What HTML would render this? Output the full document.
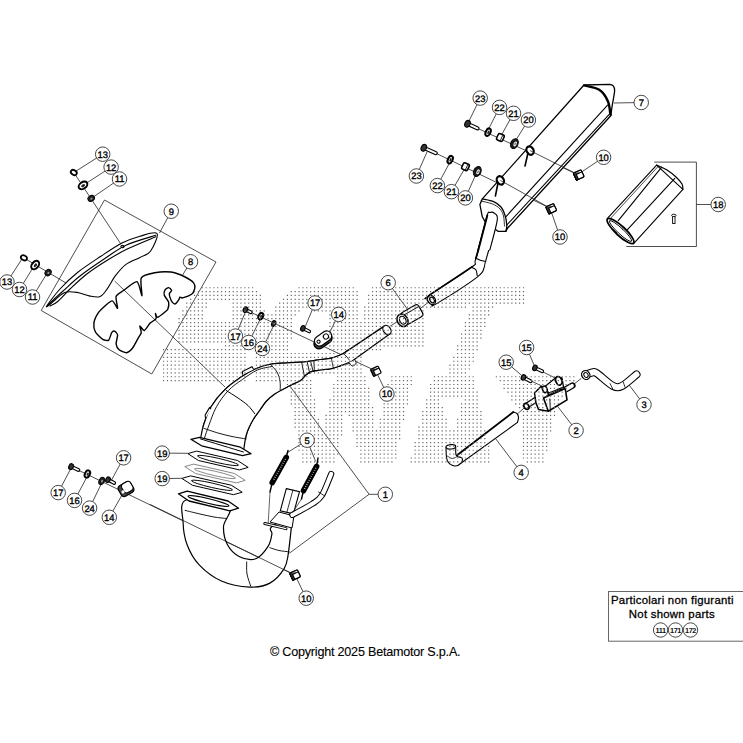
<!DOCTYPE html>
<html><head><meta charset="utf-8"><style>
html,body{margin:0;padding:0;background:#fff;width:743px;height:743px;overflow:hidden}
svg{display:block;font-family:"Liberation Sans",sans-serif}
.c{fill:#fff;stroke:#333;stroke-width:0.9}
.n{font-size:9.4px;text-anchor:middle;fill:#000;stroke:#000;stroke-width:0.35;text-rendering:geometricPrecision}
.s{font-size:7.4px;font-weight:bold;text-anchor:middle;fill:#111;letter-spacing:-0.4px}
.l{stroke:#222;stroke-width:0.8;fill:none}
.o{stroke:#000;stroke-width:1.1;fill:#fff;stroke-linejoin:round;stroke-linecap:round}
.on{stroke:#000;stroke-width:1.1;fill:none;stroke-linejoin:round;stroke-linecap:round}
.k{fill:#111;stroke:#000;stroke-width:0.8}
</style></head><body>
<svg width="743" height="743" viewBox="0 0 743 743">
<path d="M104.5,200.0 L216.0,262.0 L151.8,374.0 L41.2,310.5Z" class="l" />
<line x1="73.8" y1="172.5" x2="122.5" y2="246.5" class="l" />
<line x1="24" y1="258" x2="71" y2="286" class="l" />
<line x1="114.6" y1="281" x2="225" y2="387" class="l" />
<path d="M46.5,306.5 C47.3,304.7 54.8,294.7 60.0,289.0 C65.2,283.3 70.8,277.9 77.5,272.5 C84.2,267.1 93.1,261.4 100.5,256.5 C107.9,251.6 115.4,246.4 122.0,243.0 C128.6,239.6 134.2,237.8 140.0,236.2 C145.8,234.6 155.2,231.0 157.0,233.5 C158.8,236.0 153.3,247.2 150.5,251.2 C147.7,255.2 144.1,255.2 140.0,257.4 C135.9,259.6 130.1,261.3 126.0,264.4 C121.9,267.4 118.7,271.5 115.5,275.7 C112.3,279.9 109.3,286.2 106.7,289.7 C104.1,293.2 102.6,295.7 99.7,296.7 C96.8,297.7 93.0,296.6 89.2,295.9 C85.4,295.2 81.1,293.0 77.0,292.4 C72.9,291.8 68.4,291.1 64.7,292.4 C61.0,293.7 58.0,297.6 55.0,300.0 C52.0,302.4 45.7,308.3 46.5,306.5Z" class="o" />
<path d="M48.5,304.5 C50.8,302.3 57.2,296.2 62.5,291.5 C67.8,286.8 73.0,281.4 80.0,276.0 C87.0,270.6 96.8,263.9 104.5,258.8 C112.2,253.7 117.5,249.1 126.0,245.2 C134.5,241.3 150.8,237.0 155.7,235.3" class="on" />
<path d="M50.0,306.0 C51.3,305.2 54.4,304.3 57.7,301.5 C61.0,298.7 65.0,293.7 70.0,289.0 C75.0,284.3 81.1,278.4 87.5,273.5 C93.9,268.6 101.8,263.6 108.5,259.5 C115.2,255.4 119.8,252.6 127.7,248.8 C135.6,245.0 151.0,238.8 155.7,236.8" class="on" />
<ellipse cx="122.5" cy="246.5" rx="1.6" ry="1.2" class="on"/>
<path d="M141.3,277.9 C142.8,275.2 151.1,273.5 154.6,272.8 C158.1,272.1 167.4,271.6 170.9,272.0 C174.4,272.4 181.5,275.2 184.2,276.5 C186.9,277.8 192.6,281.6 193.8,283.1 C195.0,284.6 194.9,287.7 194.6,289.0 C194.3,290.3 193.0,293.2 191.6,294.2 C190.2,295.2 184.1,297.5 182.7,297.9 C181.3,298.2 180.2,297.0 179.8,297.2 C179.4,297.4 179.5,298.6 179.0,299.4 C178.5,300.2 176.1,303.5 175.3,303.9 C174.5,304.2 173.0,303.1 172.4,302.4 C171.8,301.7 170.5,298.9 170.2,297.9 C169.8,296.9 169.2,294.4 169.4,293.5 C169.6,292.6 171.7,291.2 171.6,290.5 C171.5,289.8 169.5,287.7 168.7,287.6 C167.9,287.5 165.5,288.9 165.0,289.8 C164.5,290.7 164.0,294.0 164.2,295.0 C164.4,296.0 166.0,297.8 166.5,298.7 C167.0,299.6 168.5,301.2 168.7,302.4 C168.9,303.6 168.3,307.9 167.9,309.0 C167.5,310.1 166.2,311.0 165.0,312.0 C163.8,313.0 158.7,317.0 157.6,317.2 C156.5,317.4 155.6,313.3 155.4,313.5 C155.2,313.7 156.7,317.6 156.1,318.7 C155.5,319.8 151.6,321.7 150.2,323.1 C148.8,324.5 145.5,330.2 144.3,330.5 C143.1,330.8 140.2,325.7 139.8,326.0 C139.5,326.3 141.5,331.3 141.3,332.7 C141.1,334.1 139.3,336.1 138.3,337.9 C137.3,339.7 133.8,346.6 132.4,348.3 C131.0,350.0 128.1,352.5 126.5,352.7 C124.9,352.9 120.3,350.7 119.1,349.7 C117.9,348.7 116.3,345.5 116.1,343.8 C115.9,342.1 117.8,336.5 117.6,335.0 C117.4,333.5 115.3,331.5 114.6,331.2 C113.9,330.9 112.4,331.7 111.7,332.7 C111.0,333.7 109.7,339.3 108.7,340.1 C107.7,340.9 104.4,340.3 102.8,339.4 C101.2,338.5 96.4,333.9 95.4,332.0 C94.4,330.1 93.6,325.4 93.9,323.1 C94.2,320.8 97.0,314.8 98.4,312.7 C99.8,310.6 104.2,306.7 105.8,305.3 C107.4,303.9 111.0,300.5 112.4,300.9 C113.8,301.2 117.2,308.8 117.6,308.3 C118.0,307.8 115.4,298.6 116.1,296.5 C116.8,294.4 121.1,292.2 123.5,290.5 C125.9,288.8 134.7,281.0 136.9,281.6 C139.1,282.2 141.5,296.1 142.0,295.7 C142.5,295.3 139.8,280.6 141.3,277.9Z" class="on" style="stroke-width:1.4"/>
<line x1="102.7" y1="154.2" x2="73.8" y2="172.5" class="l" />
<line x1="111.1" y1="167.1" x2="83" y2="185.4" class="l" />
<line x1="119.5" y1="179" x2="91.2" y2="198.4" class="l" />
<line x1="7" y1="282" x2="23.25" y2="257" class="l" />
<line x1="19.5" y1="289.5" x2="35" y2="264.5" class="l" />
<line x1="32.5" y1="297" x2="47.5" y2="272.5" class="l" />
<line x1="171.25" y1="211.25" x2="159.5" y2="233" class="l" />
<line x1="190.5" y1="261.75" x2="182.7" y2="275" class="l" />
<line x1="315.1" y1="303" x2="305.5" y2="326" class="l" />
<line x1="338.7" y1="314.4" x2="329.1" y2="333.6" class="l" />
<line x1="235.4" y1="336.1" x2="245.4" y2="312" class="l" />
<line x1="248.7" y1="342.5" x2="260.8" y2="318" class="l" />
<line x1="262.4" y1="348.5" x2="273.7" y2="325.5" class="l" />
<line x1="388.2" y1="282.7" x2="408" y2="310" class="l" />
<line x1="386.9" y1="394" x2="375.9" y2="371.2" class="l" />
<line x1="526.6" y1="347.5" x2="534.9" y2="367" class="l" />
<line x1="506.2" y1="362.2" x2="523.5" y2="377" class="l" />
<line x1="576.1" y1="430.4" x2="557.6" y2="406.4" class="l" />
<line x1="644" y1="404.6" x2="629.4" y2="385.4" class="l" />
<line x1="521.2" y1="472.4" x2="495.7" y2="438.8" class="l" />
<line x1="369.1" y1="494.3" x2="289.5" y2="385.5" class="l" />
<line x1="369.1" y1="494.3" x2="289.4" y2="553.2" class="l" />
<line x1="385.3" y1="494.3" x2="369.1" y2="494.3" class="l" />
<line x1="307.1" y1="440.2" x2="286.3" y2="453.3" class="l" />
<line x1="307.1" y1="440.2" x2="315.6" y2="461.4" class="l" />
<line x1="162.2" y1="453.1" x2="187.7" y2="453.3" class="l" />
<line x1="162.2" y1="478.6" x2="181.7" y2="478.3" class="l" />
<line x1="123.6" y1="457.8" x2="111" y2="481" class="l" />
<line x1="58.2" y1="492.6" x2="71.1" y2="468" class="l" />
<line x1="74.5" y1="500.4" x2="87.4" y2="476" class="l" />
<line x1="89.6" y1="508.1" x2="101.7" y2="483" class="l" />
<line x1="109.3" y1="517.3" x2="122" y2="495" class="l" />
<line x1="306.2" y1="598.2" x2="296" y2="577" class="l" />
<line x1="480.2" y1="98.1" x2="469" y2="121" class="l" />
<line x1="499.5" y1="107.4" x2="488.1" y2="130" class="l" />
<line x1="513.5" y1="113.3" x2="501.5" y2="135" class="l" />
<line x1="528.4" y1="120" x2="516" y2="140" class="l" />
<line x1="416.4" y1="176" x2="427" y2="152" class="l" />
<line x1="437.4" y1="185.6" x2="450" y2="162" class="l" />
<line x1="451.4" y1="191.7" x2="465" y2="168" class="l" />
<line x1="465.4" y1="197.9" x2="476" y2="174" class="l" />
<line x1="641.25" y1="102.5" x2="614" y2="103" class="l" />
<line x1="603.6" y1="157.3" x2="580" y2="173" class="l" />
<line x1="560" y1="237" x2="551" y2="211" class="l" />
<line x1="245" y1="309.5" x2="376" y2="371" class="l" />
<line x1="71" y1="466.6" x2="295" y2="575" class="l" />
<line x1="467.1" y1="123.5" x2="578.75" y2="175" class="l" />
<line x1="426.9" y1="148.9" x2="551.25" y2="208.75" class="l" />
<line x1="420.7" y1="306" x2="390" y2="326.3" class="l" />
<line x1="400" y1="324" x2="428.6" y2="302.1" class="l" />
<line x1="518.1" y1="413.3" x2="534" y2="399.5" class="l" />
<line x1="572.5" y1="385.4" x2="581.2" y2="378.4" class="l" />
<line x1="534.9" y1="367.9" x2="557.6" y2="379.2" class="l" />
<line x1="523.5" y1="377.5" x2="546.2" y2="388" class="l" />
<path d="M654.2,162.1 L696.4,162.1 L696.4,246.5 L626.3,246.5" class="l" />
<line x1="696.4" y1="204.5" x2="711" y2="204.5" class="l" />
<ellipse cx="73.8" cy="172.5" rx="3.2" ry="2.3" transform="rotate(30 73.8 172.5)" fill="#fff" stroke="#000" stroke-width="1.8"/>
<ellipse cx="83" cy="185.4" rx="3.2" ry="4.8" transform="rotate(55 83 185.4)" fill="#fff" stroke="#000" stroke-width="2.0"/>
<ellipse cx="83.3" cy="185.4" rx="1.2800000000000002" ry="2.16" transform="rotate(55 83 185.4)" fill="#222" stroke="none"/>
<ellipse cx="91.2" cy="198.4" rx="2.8" ry="3.4" transform="rotate(55 91.2 198.4)" fill="#222" stroke="#000" stroke-width="1"/>
<ellipse cx="91.60000000000001" cy="198.4" rx="0.9799999999999999" ry="1.19" transform="rotate(55 91.2 198.4)" fill="#999" stroke="none"/>
<ellipse cx="23.9" cy="257.8" rx="3.2" ry="2.3" transform="rotate(30 23.9 257.8)" fill="#fff" stroke="#000" stroke-width="1.8"/>
<ellipse cx="35.2" cy="265.1" rx="3.2" ry="4.8" transform="rotate(40 35.2 265.1)" fill="#fff" stroke="#000" stroke-width="2.0"/>
<ellipse cx="35.5" cy="265.1" rx="1.2800000000000002" ry="2.16" transform="rotate(40 35.2 265.1)" fill="#222" stroke="none"/>
<ellipse cx="48.1" cy="272.6" rx="2.8" ry="3.4" transform="rotate(40 48.1 272.6)" fill="#222" stroke="#000" stroke-width="1"/>
<ellipse cx="48.5" cy="272.6" rx="0.9799999999999999" ry="1.19" transform="rotate(40 48.1 272.6)" fill="#999" stroke="none"/>
<line x1="245.4" y1="309.7" x2="250.8" y2="312.2" stroke="#000" stroke-width="3.8" stroke-linecap="round"/>
<line x1="246.8" y1="310.3" x2="250.8" y2="312.2" stroke="#fff" stroke-width="1.5999999999999996" stroke-linecap="round"/>
<ellipse cx="245.4" cy="309.7" rx="2.16" ry="2.88" transform="rotate(25 245.4 309.7)" fill="#333" stroke="#000" stroke-width="1.1"/>
<ellipse cx="260.8" cy="316.2" rx="2.2" ry="3.4" transform="rotate(25 260.8 316.2)" fill="#fff" stroke="#000" stroke-width="2.0"/>
<ellipse cx="261.1" cy="316.2" rx="0.8800000000000001" ry="1.53" transform="rotate(25 260.8 316.2)" fill="#222" stroke="none"/>
<ellipse cx="273.7" cy="323.5" rx="2.0" ry="3.0" transform="rotate(25 273.7 323.5)" fill="#222" stroke="#000" stroke-width="1"/>
<ellipse cx="274.09999999999997" cy="323.5" rx="0.7" ry="1.0499999999999998" transform="rotate(25 273.7 323.5)" fill="#999" stroke="none"/>
<line x1="302.9" y1="328.4" x2="309.2" y2="331.4" stroke="#000" stroke-width="3.8" stroke-linecap="round"/>
<line x1="304.3" y1="329.0" x2="309.2" y2="331.4" stroke="#fff" stroke-width="1.5999999999999996" stroke-linecap="round"/>
<ellipse cx="302.9" cy="328.4" rx="2.16" ry="2.88" transform="rotate(25 302.9 328.4)" fill="#333" stroke="#000" stroke-width="1.1"/>
<line x1="71.1" y1="466.6" x2="78.4" y2="470.0" stroke="#000" stroke-width="3.8" stroke-linecap="round"/>
<line x1="72.5" y1="467.2" x2="78.4" y2="470.0" stroke="#fff" stroke-width="1.5999999999999996" stroke-linecap="round"/>
<ellipse cx="71.1" cy="466.6" rx="2.25" ry="3.0" transform="rotate(25 71.1 466.6)" fill="#333" stroke="#000" stroke-width="1.1"/>
<ellipse cx="87.4" cy="474" rx="2.4" ry="3.8" transform="rotate(25 87.4 474)" fill="#fff" stroke="#000" stroke-width="2.0"/>
<ellipse cx="87.7" cy="474" rx="0.96" ry="1.71" transform="rotate(25 87.4 474)" fill="#222" stroke="none"/>
<ellipse cx="101.7" cy="481" rx="2.6" ry="3.8" transform="rotate(25 101.7 481)" fill="#222" stroke="#000" stroke-width="1"/>
<ellipse cx="102.10000000000001" cy="481" rx="0.9099999999999999" ry="1.3299999999999998" transform="rotate(25 101.7 481)" fill="#999" stroke="none"/>
<line x1="108" y1="479.7" x2="114.2" y2="483.0" stroke="#000" stroke-width="3.8" stroke-linecap="round"/>
<line x1="109.3" y1="480.4" x2="114.2" y2="483.0" stroke="#fff" stroke-width="1.5999999999999996" stroke-linecap="round"/>
<ellipse cx="108" cy="479.7" rx="2.16" ry="2.88" transform="rotate(28 108 479.7)" fill="#333" stroke="#000" stroke-width="1.1"/>
<line x1="534.9" y1="367.9" x2="542.2" y2="371.3" stroke="#000" stroke-width="3.8" stroke-linecap="round"/>
<line x1="536.3" y1="368.5" x2="542.2" y2="371.3" stroke="#fff" stroke-width="1.5999999999999996" stroke-linecap="round"/>
<ellipse cx="534.9" cy="367.9" rx="2.16" ry="2.88" transform="rotate(25 534.9 367.9)" fill="#333" stroke="#000" stroke-width="1.1"/>
<line x1="523.5" y1="377.5" x2="530.6" y2="381.3" stroke="#000" stroke-width="3.8" stroke-linecap="round"/>
<line x1="524.8" y1="378.2" x2="530.6" y2="381.3" stroke="#fff" stroke-width="1.5999999999999996" stroke-linecap="round"/>
<ellipse cx="523.5" cy="377.5" rx="2.16" ry="2.88" transform="rotate(28 523.5 377.5)" fill="#333" stroke="#000" stroke-width="1.1"/>
<line x1="467.5" y1="123.8" x2="477.5" y2="128.3" stroke="#000" stroke-width="4.2" stroke-linecap="round"/>
<line x1="468.9" y1="124.4" x2="477.5" y2="128.3" stroke="#fff" stroke-width="2.0" stroke-linecap="round"/>
<ellipse cx="467.5" cy="123.8" rx="2.61" ry="3.48" transform="rotate(24 467.5 123.8)" fill="#333" stroke="#000" stroke-width="1.1"/>
<ellipse cx="488.1" cy="132.2" rx="2.3" ry="4.0" transform="rotate(25 488.1 132.2)" fill="#fff" stroke="#000" stroke-width="2.0"/>
<ellipse cx="488.40000000000003" cy="132.2" rx="0.9199999999999999" ry="1.8" transform="rotate(25 488.1 132.2)" fill="#222" stroke="none"/>
<g transform="translate(500.4 137.5) rotate(25)"><rect x="-3.2" y="-3.4" width="6.4" height="6.8" rx="1.6" fill="#fff" stroke="#000" stroke-width="1.6"/><line x1="1.2" y1="-3" x2="1.2" y2="3" stroke="#000" stroke-width="0.8"/></g>
<g transform="translate(514.4 143.6) rotate(25)"><ellipse cx="0" cy="0" rx="3.6" ry="5.2" fill="#1a1a1a" stroke="#000" stroke-width="1"/><ellipse cx="0.8" cy="0" rx="1.5" ry="2.6" fill="#fff" stroke="none"/><ellipse cx="0.8" cy="0" rx="0.7" ry="1.4" fill="#666" stroke="none"/></g>
<line x1="423.8" y1="147.8" x2="435.7" y2="153.1" stroke="#000" stroke-width="4.2" stroke-linecap="round"/>
<line x1="425.2" y1="148.4" x2="435.7" y2="153.1" stroke="#fff" stroke-width="2.0" stroke-linecap="round"/>
<ellipse cx="423.8" cy="147.8" rx="2.61" ry="3.48" transform="rotate(24 423.8 147.8)" fill="#333" stroke="#000" stroke-width="1.1"/>
<ellipse cx="450.2" cy="159.7" rx="2.3" ry="4.0" transform="rotate(25 450.2 159.7)" fill="#fff" stroke="#000" stroke-width="2.0"/>
<ellipse cx="450.5" cy="159.7" rx="0.9199999999999999" ry="1.8" transform="rotate(25 450.2 159.7)" fill="#222" stroke="none"/>
<g transform="translate(465.5 166.7) rotate(25)"><rect x="-3.2" y="-3.4" width="6.4" height="6.8" rx="1.6" fill="#fff" stroke="#000" stroke-width="1.6"/><line x1="1.2" y1="-3" x2="1.2" y2="3" stroke="#000" stroke-width="0.8"/></g>
<g transform="translate(477.3 171.5) rotate(25)"><ellipse cx="0" cy="0" rx="3.6" ry="5.2" fill="#1a1a1a" stroke="#000" stroke-width="1"/><ellipse cx="0.8" cy="0" rx="1.5" ry="2.6" fill="#fff" stroke="none"/><ellipse cx="0.8" cy="0" rx="0.7" ry="1.4" fill="#666" stroke="none"/></g>
<g transform="translate(578.75 175) rotate(-25)"><rect x="-4.2" y="-3.8" width="8.4" height="7.6" rx="1" fill="#fff" stroke="#000" stroke-width="1.2"/><path d="M-4.2,-3.8 L-4.2,3.8 L-2,3.8 L-2,-1.5 L4.2,-1.5" fill="#333" stroke="#000" stroke-width="1"/></g>
<g transform="translate(551.25 208.75) rotate(-25)"><rect x="-4.2" y="-3.8" width="8.4" height="7.6" rx="1" fill="#fff" stroke="#000" stroke-width="1.2"/><path d="M-4.2,-3.8 L-4.2,3.8 L-2,3.8 L-2,-1.5 L4.2,-1.5" fill="#333" stroke="#000" stroke-width="1"/></g>
<g transform="translate(375.9 371.2) rotate(-25)"><rect x="-4.2" y="-3.8" width="8.4" height="7.6" rx="1" fill="#fff" stroke="#000" stroke-width="1.2"/><path d="M-4.2,-3.8 L-4.2,3.8 L-2,3.8 L-2,-1.5 L4.2,-1.5" fill="#333" stroke="#000" stroke-width="1"/></g>
<g transform="translate(295.1 575) rotate(-25)"><rect x="-4.2" y="-3.8" width="8.4" height="7.6" rx="1" fill="#fff" stroke="#000" stroke-width="1.2"/><path d="M-4.2,-3.8 L-4.2,3.8 L-2,3.8 L-2,-1.5 L4.2,-1.5" fill="#333" stroke="#000" stroke-width="1"/></g>
<g transform="translate(323 341) rotate(-35)"><rect x="-10" y="-5" width="20" height="10" rx="5" fill="#3a3a3a" stroke="#000" stroke-width="1.3"/><rect x="-8" y="-7" width="19" height="10" rx="5" fill="#fff" stroke="#000" stroke-width="1.2"/><circle cx="-4" cy="-2" r="1.6" fill="#fff" stroke="#000" stroke-width="1"/><circle cx="5" cy="-2" r="2.6" fill="#fff" stroke="#000" stroke-width="1.1"/></g>
<g transform="translate(126 489) rotate(-30)"><rect x="-7" y="-6" width="14" height="12" rx="3" fill="#444" stroke="#000" stroke-width="1.2"/><rect x="-3" y="-6" width="10" height="10" rx="3" fill="#fff" stroke="#000" stroke-width="1"/><circle cx="-4" cy="1" r="1.6" fill="#fff"/></g>
<path d="M488.5,214.2 C486.4,221.6 478.6,249.9 475.8,258.7 C473.0,267.5 479.3,261.1 471.5,267.2 C463.7,273.3 436.6,290.1 429.1,295.4 C421.6,300.7 426.0,297.6 426.5,299.0 C427.0,300.4 430.4,303.2 432.0,304.0 C433.6,304.8 428.7,308.4 436.2,303.9 C443.7,299.4 469.2,283.2 477.2,277.1 C485.2,271.0 482.8,269.9 484.2,267.2 C485.6,264.5 483.4,268.8 485.7,260.8 C487.9,252.8 495.7,226.1 497.7,219.1" class="o" />
<path d="M488.5,214.2 L475.8,258.7" class="on" style="stroke-width:1.8"/>
<path d="M477.2,258.7 C477.8,259.0 479.6,260.0 481.0,260.5 C482.4,261.0 484.9,261.3 485.7,261.5" class="on" />
<path d="M471.5,267.2 C472.2,267.7 475.1,268.6 476.0,270.0 C476.9,271.4 477.0,274.8 477.2,275.7" class="on" />
<path d="M471.5,267.2 L429.1,295.4" class="on" style="stroke-width:1.6"/>
<ellipse cx="431.5" cy="300" rx="3.6" ry="4.8" transform="rotate(-35 431.5 300)" class="o" style="stroke-width:1.4"/>
<ellipse cx="432" cy="300" rx="2.0" ry="3.0" transform="rotate(-35 432 300)" class="on" />
<path d="M584,85 L482.3,198.9 L479.9,204.5 L482.3,216.8 L485,221.5 L498.3,231.4 L505.8,231.4 L507.7,228 L611,115.5 C611.5,106 614,98 614.6,91 C614.8,87 613,84.4 609.5,84.4 Z" fill="#fff" stroke="#000" stroke-width="1.3" stroke-linejoin="round"/>
<path d="M505.8,216.8 L607.6,105.2" class="on" />
<path d="M506.8,225.0 L609.0,114.6" class="on" />
<path d="M584.0,85.4 C586.6,86.2 595.6,87.3 599.6,90.0 C603.6,92.7 606.2,97.3 608.0,101.4 C609.8,105.5 610.0,112.4 610.4,114.6" class="on" style="stroke-width:2.4"/>
<path d="M482.3,198.9 C484.2,199.4 490.5,200.3 493.6,201.7 C496.7,203.0 499.1,204.8 501.0,207.0 C502.9,209.2 503.9,211.9 504.9,214.9 C505.9,217.9 506.6,222.4 506.8,225.2 C507.0,227.9 506.0,230.4 505.8,231.4" class="on" style="stroke-width:1.3"/>
<path d="M481.0,201.0 C482.9,201.5 489.4,202.7 492.6,204.0 C495.8,205.3 498.2,207.0 500.0,209.0 C501.8,211.0 502.8,213.2 503.5,216.0 C504.2,218.8 504.3,224.3 504.5,226.0" class="on" style="stroke-width:0.8"/>
<path d="M478.3,250.0 C479.8,244.3 485.1,222.1 487.0,215.8 C488.9,209.6 488.8,213.0 490.0,212.5 C491.2,212.0 492.8,211.8 494.0,213.0 C495.2,214.2 498.0,213.4 497.3,219.6 C496.6,225.8 491.1,244.9 489.8,250.0" class="o" style="stroke-width:1.1"/>
<path d="M487.3,215.5 L478.3,250.0" class="on" style="stroke-width:1.9"/>
<ellipse cx="530.1" cy="150.6" rx="3.4" ry="4.4" transform="rotate(-30 530.1 150.6)" class="o" style="stroke-width:2.2"/>
<path d="M528.0,153.0 L525.0,166.0" class="on" style="stroke-width:1.6"/>
<ellipse cx="500.4" cy="180.4" rx="3.4" ry="4.4" transform="rotate(-30 500.4 180.4)" class="o" style="stroke-width:2.2"/>
<path d="M498.0,183.0 L495.4,196.0" class="on" style="stroke-width:1.6"/>
<path d="M656.6,165.1 L607.2,218.6 L633.4,243.9 L682.9,189.4Z" class="o" />
<path d="M656.6,165.1 C658.3,165.9 663.8,168.0 667.0,170.0 C670.2,172.0 673.5,174.7 676.0,177.0 C678.5,179.3 680.9,181.9 682.0,184.0 C683.1,186.1 682.8,188.5 682.9,189.4" class="on" style="stroke-width:1.2"/>
<path d="M661.7,167.2 L618.3,220.7" class="on" />
<path d="M674.8,178.3 L626.3,230.8" class="on" />
<path d="M658.5,166.0 L609.5,219.5" class="on" style="stroke-width:0.7"/>
<ellipse cx="620.5" cy="231" rx="4.8" ry="17.8" transform="rotate(-47 620.5 231)" class="o" style="stroke-width:1.8"/>
<ellipse cx="620.5" cy="231" rx="2.8" ry="15" transform="rotate(-47 620.5 231)" class="on" style="stroke-width:0.9"/>
<line x1="613" y1="229" x2="617" y2="233" class="on" style="stroke-width:0.8"/>
<g transform="translate(673.8 219) rotate(0)"><rect x="-1.2" y="-3" width="2.4" height="7.5" fill="#fff" stroke="#000" stroke-width="0.9"/><ellipse cx="0" cy="-3.6" rx="2.2" ry="1.2" fill="#fff" stroke="#000" stroke-width="0.9"/></g>
<g transform="translate(412 314.5) rotate(-30)"><rect x="-10" y="-6.6" width="20" height="13.2" rx="3" fill="#fff" stroke="#000" stroke-width="1.2"/><line x1="-9" y1="-3.5" x2="9" y2="-3.5" stroke="#000" stroke-width="0.9"/></g>
<ellipse cx="402.5" cy="320.3" rx="5.2" ry="6.6" transform="rotate(-30 402.5 320.3)" class="o" style="stroke-width:1.5"/>
<ellipse cx="402.8" cy="320.2" rx="3.0" ry="4.2" transform="rotate(-30 402.8 320.2)" class="on" style="stroke-width:1.2"/>
<line x1="530.1" y1="150.6" x2="578.75" y2="175" class="l" />
<line x1="500.4" y1="180.4" x2="551.25" y2="208.75" class="l" />
<g transform="translate(578.75 175) rotate(-25)"><rect x="-4.2" y="-3.8" width="8.4" height="7.6" rx="1" fill="#fff" stroke="#000" stroke-width="1.2"/><path d="M-4.2,-3.8 L-4.2,3.8 L-2,3.8 L-2,-1.5 L4.2,-1.5" fill="#333" stroke="#000" stroke-width="1"/></g>
<g transform="translate(551.25 208.75) rotate(-25)"><rect x="-4.2" y="-3.8" width="8.4" height="7.6" rx="1" fill="#fff" stroke="#000" stroke-width="1.2"/><path d="M-4.2,-3.8 L-4.2,3.8 L-2,3.8 L-2,-1.5 L4.2,-1.5" fill="#333" stroke="#000" stroke-width="1"/></g>
<path d="M200.5,438.9 C201.0,436.6 201.8,430.4 203.6,425.0 C205.4,419.6 207.5,412.6 211.1,406.7 C214.7,400.8 220.2,394.2 225.1,389.4 C229.9,384.5 235.2,381.0 240.2,377.6 C245.2,374.2 250.5,371.2 255.3,369.0 C260.1,366.8 263.7,365.5 269.0,364.5 C274.3,363.5 281.7,363.3 286.9,362.9 C292.1,362.5 297.0,362.4 300.4,362.2 C303.8,362.0 303.7,361.9 307.1,361.5 C310.5,361.1 316.6,360.1 320.6,359.5 C324.6,358.9 327.5,359.2 331.3,358.2 C335.1,357.2 340.3,354.9 343.4,353.5 C346.5,352.1 348.6,348.2 350.0,349.5 C351.4,350.8 353.0,358.8 351.5,361.5 C350.0,364.2 343.9,364.5 340.8,365.6 C337.7,366.7 336.5,367.5 332.7,368.3 C328.9,369.1 321.5,369.8 317.9,370.3 C314.3,370.9 313.1,370.8 311.1,371.6 C309.1,372.4 307.6,373.5 305.8,375.0 C304.0,376.5 303.1,378.6 300.4,380.4 C297.7,382.2 293.8,383.6 289.6,385.8 C285.4,388.0 278.9,391.2 275.0,393.8 C271.1,396.4 268.6,398.7 266.0,401.5 C263.4,404.3 261.7,407.6 259.6,410.5 C257.5,413.4 255.2,416.3 253.5,419.0 C251.8,421.7 250.8,423.7 249.5,426.5 C248.2,429.3 247.0,431.8 246.0,436.0 C245.0,440.2 243.8,449.3 243.4,452.0" class="o" style="stroke-width:1.2"/>
<path d="M243.4,452.0 L200.5,438.9" class="x" stroke="none" fill="none"/>
<path d="M200.5,438.9 C193.9,434.4 201.8,430.4 203.6,425.0 C205.4,419.6 207.5,412.6 211.1,406.7 C214.7,400.8 220.2,394.2 225.1,389.4 C229.9,384.5 235.2,381.0 240.2,377.6 C245.2,374.2 250.5,371.2 255.3,369.0 C260.1,366.8 263.7,365.5 269.0,364.5 C274.3,363.5 281.7,363.3 286.9,362.9 C292.1,362.5 297.0,362.4 300.4,362.2 C303.8,362.0 303.7,361.9 307.1,361.5 C310.5,361.1 316.6,360.1 320.6,359.5 C324.6,358.9 327.5,359.2 331.3,358.2 C335.1,357.2 340.3,354.9 343.4,353.5 C346.5,352.1 343.1,353.9 350.0,349.5 C356.9,345.1 378.2,329.6 385.0,327.0 C391.8,324.4 396.1,328.2 390.5,334.0 C384.9,339.8 359.8,356.2 351.5,361.5 C343.2,366.8 343.9,364.5 340.8,365.6 C337.7,366.7 336.5,367.5 332.7,368.3 C328.9,369.1 321.5,369.8 317.9,370.3 C314.3,370.9 313.1,370.8 311.1,371.6 C309.1,372.4 307.6,373.5 305.8,375.0 C304.0,376.5 303.1,378.6 300.4,380.4 C297.7,382.2 293.8,383.6 289.6,385.8 C285.4,388.0 278.9,391.2 275.0,393.8 C271.1,396.4 268.6,398.7 266.0,401.5 C263.4,404.3 261.7,407.6 259.6,410.5 C257.5,413.4 255.2,416.3 253.5,419.0 C251.8,421.7 250.8,423.7 249.5,426.5 C248.2,429.3 247.0,431.8 246.0,436.0 C245.0,440.2 251.0,451.5 243.4,452.0 C235.8,452.5 207.1,443.4 200.5,438.9Z" class="x" fill="#fff" stroke="none"/>
<path d="M200.5,438.9 C201.0,436.6 201.8,430.4 203.6,425.0 C205.4,419.6 207.5,412.6 211.1,406.7 C214.7,400.8 220.2,394.2 225.1,389.4 C229.9,384.5 235.2,381.0 240.2,377.6 C245.2,374.2 250.5,371.2 255.3,369.0 C260.1,366.8 263.7,365.5 269.0,364.5 C274.3,363.5 281.7,363.3 286.9,362.9 C292.1,362.5 297.0,362.4 300.4,362.2 C303.8,362.0 303.7,361.9 307.1,361.5 C310.5,361.1 316.6,360.1 320.6,359.5 C324.6,358.9 327.5,359.2 331.3,358.2 C335.1,357.2 340.3,354.9 343.4,353.5 C346.5,352.1 348.9,350.2 350.0,349.5" class="on" style="stroke-width:1.2"/>
<path d="M351.5,361.5 C349.7,362.2 343.9,364.5 340.8,365.6 C337.7,366.7 336.5,367.5 332.7,368.3 C328.9,369.1 321.5,369.8 317.9,370.3 C314.3,370.9 313.1,370.8 311.1,371.6 C309.1,372.4 307.6,373.5 305.8,375.0 C304.0,376.5 303.1,378.6 300.4,380.4 C297.7,382.2 293.8,383.6 289.6,385.8 C285.4,388.0 278.9,391.2 275.0,393.8 C271.1,396.4 268.6,398.7 266.0,401.5 C263.4,404.3 261.7,407.6 259.6,410.5 C257.5,413.4 255.2,416.3 253.5,419.0 C251.8,421.7 250.8,423.7 249.5,426.5 C248.2,429.3 247.0,431.8 246.0,436.0 C245.0,440.2 243.8,449.3 243.4,452.0" class="on" style="stroke-width:1.2"/>
<path d="M204.5,438.0 C205.2,435.8 207.0,430.2 209.0,425.0 C211.0,419.8 213.3,412.4 216.5,406.7 C219.7,400.9 224.1,395.0 228.4,390.5 C232.7,386.0 237.6,382.9 242.4,379.5 C247.2,376.1 252.5,372.2 257.4,370.0 C262.3,367.8 269.6,367.1 272.0,366.5" class="on" style="stroke-width:0.9"/>
<path d="M226.2,390.5 C228.2,391.8 234.4,395.5 238.0,398.0 C241.6,400.5 245.2,402.9 248.0,405.5 C250.8,408.1 253.6,412.3 254.7,413.7" class="on" style="stroke-width:1"/>
<path d="M270.8,364.9 C271.8,366.1 275.5,369.3 277.0,372.0 C278.5,374.7 279.5,378.0 280.0,381.0 C280.5,384.0 280.2,388.3 280.2,389.8" class="on" style="stroke-width:0.9"/>
<path d="M204.0,428.4 C206.3,429.2 213.3,431.6 218.0,433.0 C222.7,434.4 227.3,435.5 232.0,436.5 C236.7,437.5 243.7,438.5 246.0,438.9" class="on" style="stroke-width:0.9"/>
<line x1="301.7" y1="362.2" x2="304.4" y2="376.5" class="on" style="stroke-width:0.9"/>
<line x1="307.1" y1="361.6" x2="309.8" y2="373.6" class="on" style="stroke-width:0.9"/>
<line x1="310.5" y1="361" x2="313.2" y2="371.6" class="on" style="stroke-width:0.9"/>
<line x1="313.8" y1="360.6" x2="314.5" y2="371" class="on" style="stroke-width:0.9"/>
<line x1="331.3" y1="358.2" x2="333.4" y2="368.3" class="on" style="stroke-width:0.8"/>
<path d="M343.4,353.5 L383.8,326.3 L390.4,333.6 L351.5,361.5 Z" fill="#fff" stroke="none"/>
<path d="M343.4,353.5 L383.8,326.3" class="on" style="stroke-width:1.5"/>
<path d="M351.5,361.5 L390.4,333.6" class="on" style="stroke-width:1.2"/>
<ellipse cx="387" cy="330" rx="3.6" ry="5.0" transform="rotate(-35 387 330)" class="o" style="stroke-width:1.2"/>
<path d="M343.4,353.5 C344.0,354.1 346.0,355.9 347.0,357.0 C348.0,358.1 349.1,359.7 349.5,360.2" class="on" style="stroke-width:0.8"/>
<path d="M349.0,362.5 C349.6,363.1 351.1,365.8 352.3,366.0 C353.5,366.2 355.6,364.5 356.0,363.5 C356.4,362.5 355.2,360.6 355.0,360.0" class="o" style="stroke-width:1"/>
<path d="M242.6,374.6 L242.4,371.5 L252,366.8 L253.7,369.5" fill="#fff" stroke="#000" stroke-width="1.1"/>
<path d="M205.5,418.5 L205.2,415 L209.5,407.7 L211,409" fill="#fff" stroke="#000" stroke-width="1.1"/>
<path d="M190.9,439.3 L199.5,437.4 L240.4,447.2 L251.1,453.7 L242.5,455.6 L201.6,445.8Z" fill="#fff" stroke="#000" stroke-width="1.3" stroke-linejoin="round"/>
<path d="M200.5,438.9 C207.7,441.1 236.2,449.8 243.4,452.0" class="on" style="stroke-width:1"/>
<path d="M187.8,453.6 L196.6,451.1 L237.5,460.5 L248.2,467.4 L239.4,469.9 L198.5,460.5Z" fill="#fff" stroke="#000" stroke-width="1.0" stroke-linejoin="round"/>
<ellipse cx="218" cy="460.5" rx="21" ry="2.2" transform="rotate(12.9 218 460.5)" fill="none" stroke="#000" stroke-width="0.9"/>
<path d="M184.8,466.6 L193.6,464.1 L234.5,473.5 L245.2,480.4 L236.4,482.9 L195.5,473.5Z" fill="#fff" stroke="#777" stroke-width="0.9" stroke-linejoin="round"/>
<ellipse cx="215" cy="473.5" rx="21" ry="2.2" transform="rotate(12.9 215 473.5)" fill="none" stroke="#777" stroke-width="0.81"/>
<path d="M181.8,478.4 L190.6,475.9 L231.5,485.3 L242.2,492.2 L233.4,494.7 L192.5,485.3Z" fill="#fff" stroke="#000" stroke-width="1.0" stroke-linejoin="round"/>
<ellipse cx="212" cy="485.3" rx="21" ry="2.2" transform="rotate(12.9 212 485.3)" fill="none" stroke="#000" stroke-width="0.9"/>
<path d="M186.1,500.0 C178.5,502.8 182.9,515.0 183.1,522.5 C183.3,530.0 184.4,537.6 187.1,544.7 C189.8,551.8 193.5,558.9 199.2,564.9 C204.9,570.9 213.0,577.3 221.4,581.0 C229.8,584.7 241.6,586.8 249.7,587.1 C257.8,587.5 264.2,586.1 269.9,583.1 C275.6,580.1 281.0,573.6 284.0,568.9 C287.0,564.2 286.8,562.9 288.1,554.8 C289.5,546.7 291.3,527.0 292.1,520.5 C292.9,514.0 296.4,514.9 293.0,516.0 C289.6,517.1 275.0,524.0 271.5,527.0 C268.0,530.0 272.5,530.7 271.9,534.0 C271.3,537.3 270.6,542.6 267.9,546.7 C265.2,550.8 260.5,557.1 255.8,558.8 C251.1,560.5 244.3,559.1 239.6,556.8 C234.9,554.4 230.2,549.8 227.5,544.7 C224.8,539.7 223.3,533.0 223.5,526.5 C223.7,520.0 234.7,510.4 228.5,506.0 C222.3,501.6 193.7,497.2 186.1,500.0Z" class="o" style="stroke-width:1.2"/>
<path d="M178.4,493.8 L187.2,491.2 L228.0,501.0 L238.6,508.2 L229.8,510.8 L189.0,501.0Z" fill="#fff" stroke="#000" stroke-width="1.3" stroke-linejoin="round"/>
<ellipse cx="208.5" cy="501" rx="21" ry="2.3" transform="rotate(13.5 208.5 501)" fill="none" stroke="#000" stroke-width="1.1700000000000002"/>
<path d="M185.1,510.4 C187.6,511.0 195.2,512.9 200.0,514.0 C204.8,515.1 209.6,516.2 214.0,517.0 C218.4,517.8 224.4,518.2 226.5,518.5" class="on" style="stroke-width:0.9"/>
<path d="M269.9,547.7 C271.4,548.2 275.8,549.8 279.0,550.5 C282.2,551.2 287.4,551.6 289.1,551.8" class="on" style="stroke-width:0.9"/>
<path d="M246.7,561.9 C246.8,563.9 246.3,570.0 247.0,574.0 C247.7,578.0 250.1,584.1 250.7,586.1" class="on" style="stroke-width:0.9"/>
<path d="M270,522 L279,512 L294,516 L292,528 Z" fill="#fff" stroke="#000" stroke-width="1"/>
<path d="M264.8,523.5 L286,528.6" stroke="#000" stroke-width="3" stroke-linecap="round"/><path d="M264.8,523.5 L286,528.6" stroke="#fff" stroke-width="1.2" stroke-linecap="round"/>
<path d="M286.3,488.6 L299.5,491.7 L293.4,513.9 L280.3,510.9 Z" fill="#fff" stroke="#000" stroke-width="1.1"/>
<line x1="292.9" y1="490.2" x2="286.8" y2="512.4" class="on" style="stroke-width:0.8"/>
<path d="M331.2,474.0 C329.6,477.6 324.9,490.7 321.7,495.7 C318.5,500.7 316.9,500.8 312.0,504.0 C307.1,507.2 295.7,513.1 292.4,514.9" class="on" style="stroke-width:6.2;stroke:#000"/>
<path d="M331.2,474.0 C329.6,477.6 324.9,490.7 321.7,495.7 C318.5,500.7 316.9,500.8 312.0,504.0 C307.1,507.2 295.7,513.1 292.4,514.9" class="on" style="stroke-width:4.2;stroke:#fff"/>
<line x1="318.5" y1="492" x2="324.8" y2="496" class="on" style="stroke-width:0.8"/>
<path d="M286.3,457.4 L272.2,482.6" stroke="#000" stroke-width="5.6" stroke-linecap="round"/>
<path d="M316.6,466.4 L303.5,490.7" stroke="#000" stroke-width="5.6" stroke-linecap="round"/>
<path d="M285.5,459 L273,481" stroke="#fff" stroke-width="1.6" stroke-dasharray="0.7 1.6" opacity="0.8"/>
<path d="M315.8,468 L304.3,489.2" stroke="#fff" stroke-width="1.6" stroke-dasharray="0.7 1.6" opacity="0.8"/>
<line x1="288" y1="450.5" x2="286.3" y2="457.4" class="on" style="stroke-width:1.4"/>
<line x1="272.2" y1="482.6" x2="270" y2="492" class="on" style="stroke-width:1.4"/>
<line x1="318" y1="458" x2="316.6" y2="466.4" class="on" style="stroke-width:1.4"/>
<line x1="303.5" y1="490.7" x2="301.5" y2="499" class="on" style="stroke-width:1.4"/>
<line x1="270" y1="492" x2="268.2" y2="523" class="l" style="stroke-width:0.7"/>
<line x1="301.5" y1="499" x2="292.4" y2="512.9" class="l" style="stroke-width:0.7"/>
<line x1="150" y1="504.4" x2="295" y2="575" class="l" />
<g transform="translate(295.1 575) rotate(-25)"><rect x="-4.2" y="-3.8" width="8.4" height="7.6" rx="1" fill="#fff" stroke="#000" stroke-width="1.2"/><path d="M-4.2,-3.8 L-4.2,3.8 L-2,3.8 L-2,-1.5 L4.2,-1.5" fill="#333" stroke="#000" stroke-width="1"/></g>
<path d="M513.3,412.1 L456.4,455.7 L461.2,463 L517.5,422.4 Z" fill="#fff" stroke="none"/>
<path d="M456.4,455.7 L513.3,412.1" class="on" style="stroke-width:1.9"/>
<path d="M461.2,463.0 L517.5,422.4" class="on" style="stroke-width:1.1"/>
<path d="M513.3,412.1 C513.9,412.3 516.1,412.6 517.0,413.5 C517.9,414.4 518.4,416.0 518.5,417.5 C518.6,419.0 517.7,421.6 517.5,422.4" class="on" style="stroke-width:1.1"/>
<path d="M446.0,447.2 C446.2,449.4 445.9,457.5 447.3,460.6 C448.7,463.7 452.2,465.6 454.5,466.0 C456.8,466.4 459.9,464.3 461.2,463.0 C462.4,461.7 462.8,459.2 462.0,458.0 C461.2,456.8 457.4,457.5 456.4,455.7 C455.3,453.9 455.8,448.6 455.7,447.2" class="o" style="stroke-width:1.1"/>
<ellipse cx="450.9" cy="446.8" rx="4.8" ry="2.2" transform="rotate(-5 450.9 446.8)" class="o" style="stroke-width:1.2"/>
<path d="M447.3,456.0 C448.1,456.4 450.5,458.3 452.0,458.5 C453.5,458.7 455.7,457.2 456.4,457.0" class="on" style="stroke-width:0.7"/>
<path d="M585.6,374.9 C586.8,374.5 591.1,372.6 593.0,372.3 C594.9,372.1 593.7,371.1 597.0,373.4 C600.3,375.6 608.6,383.7 612.8,385.8 C617.0,387.9 618.3,387.7 622.3,385.8 C626.2,383.9 634.1,376.4 636.5,374.5" class="on" style="stroke-width:8;stroke:#000"/>
<path d="M585.6,374.9 C586.8,374.5 591.1,372.6 593.0,372.3 C594.9,372.1 593.7,371.1 597.0,373.4 C600.3,375.6 608.6,383.7 612.8,385.8 C617.0,387.9 618.3,387.7 622.3,385.8 C626.2,383.9 634.1,376.4 636.5,374.5" class="on" style="stroke-width:6;stroke:#fff"/>
<line x1="610.1" y1="383.6" x2="612.7" y2="388.9" class="on" style="stroke-width:0.8"/>
<line x1="623.2" y1="381.9" x2="625" y2="387.1" class="on" style="stroke-width:0.8"/>
<ellipse cx="585.8" cy="375" rx="4.0" ry="4.6" transform="rotate(-30 585.8 375)" class="o" style="stroke-width:1.3"/>
<ellipse cx="586" cy="375" rx="2.0" ry="2.6" transform="rotate(-30 586 375)" class="on" style="stroke-width:1"/>
<path d="M526,406 L537,399" stroke="#000" stroke-width="6.2" stroke-linecap="round"/><path d="M527,405.5 L537,399" stroke="#fff" stroke-width="3.8" stroke-linecap="round"/>
<ellipse cx="526.4" cy="406.4" rx="2.3" ry="3.2" transform="rotate(-35 526.4 406.4)" class="o" style="stroke-width:1.7"/>
<path d="M563,391 L572.5,385.5" stroke="#000" stroke-width="6.2" stroke-linecap="round"/><path d="M563,391 L572,385.8" stroke="#fff" stroke-width="3.8" stroke-linecap="round"/>
<path d="M543.4,387.8 L556,377.5 L562,378 L563.5,387 L549,393 Z" fill="#fff" stroke="#000" stroke-width="1.3" stroke-linejoin="round"/>
<path d="M534.5,393 L541,386.5 L547,390 L549.5,398 L548.3,411.2 L538.6,409.6 L536,403 Z" fill="#fff" stroke="#000" stroke-width="1.5" stroke-linejoin="round"/>
<path d="M543.5,398 L565.2,388.5 L567,399.9 L548.3,411.2 Z" fill="#fff" stroke="#000" stroke-width="1.6" stroke-linejoin="round"/>
<path d="M549.8,398.5 L550.3,409.5" stroke="#000" stroke-width="0.9"/><path d="M546,396 L563,388" stroke="#000" stroke-width="0.9"/>
<ellipse cx="558.8" cy="380.8" rx="3.0" ry="4.4" transform="rotate(-20 558.8 380.8)" class="o" style="stroke-width:1.7"/>
<ellipse cx="544.8" cy="389.3" rx="2.3" ry="3.4" transform="rotate(-20 544.8 389.3)" class="o" style="stroke-width:1.5"/>
<path d="M201.67,287.13h1.2v1.2h-1.2zM205.54,287.13h1.2v1.2h-1.2zM209.41,287.13h1.2v1.2h-1.2zM213.28,287.13h1.2v1.2h-1.2zM217.15,287.13h1.2v1.2h-1.2zM221.02,287.13h1.2v1.2h-1.2zM224.89,287.13h1.2v1.2h-1.2zM228.76,287.13h1.2v1.2h-1.2zM232.63,287.13h1.2v1.2h-1.2zM236.50,287.13h1.2v1.2h-1.2zM240.37,287.13h1.2v1.2h-1.2zM244.24,287.13h1.2v1.2h-1.2zM248.11,287.13h1.2v1.2h-1.2zM251.98,287.13h1.2v1.2h-1.2zM298.42,287.13h1.2v1.2h-1.2zM302.29,287.13h1.2v1.2h-1.2zM306.16,287.13h1.2v1.2h-1.2zM310.03,287.13h1.2v1.2h-1.2zM313.90,287.13h1.2v1.2h-1.2zM317.77,287.13h1.2v1.2h-1.2zM321.64,287.13h1.2v1.2h-1.2zM325.51,287.13h1.2v1.2h-1.2zM329.38,287.13h1.2v1.2h-1.2zM333.25,287.13h1.2v1.2h-1.2zM337.12,287.13h1.2v1.2h-1.2zM340.99,287.13h1.2v1.2h-1.2zM344.86,287.13h1.2v1.2h-1.2zM348.73,287.13h1.2v1.2h-1.2zM352.60,287.13h1.2v1.2h-1.2zM371.95,287.13h1.2v1.2h-1.2zM375.82,287.13h1.2v1.2h-1.2zM379.69,287.13h1.2v1.2h-1.2zM383.56,287.13h1.2v1.2h-1.2zM387.43,287.13h1.2v1.2h-1.2zM391.30,287.13h1.2v1.2h-1.2zM395.17,287.13h1.2v1.2h-1.2zM399.04,287.13h1.2v1.2h-1.2zM402.91,287.13h1.2v1.2h-1.2zM406.78,287.13h1.2v1.2h-1.2zM410.65,287.13h1.2v1.2h-1.2zM414.52,287.13h1.2v1.2h-1.2zM418.39,287.13h1.2v1.2h-1.2zM422.26,287.13h1.2v1.2h-1.2zM426.13,287.13h1.2v1.2h-1.2zM430.00,287.13h1.2v1.2h-1.2zM433.87,287.13h1.2v1.2h-1.2zM437.74,287.13h1.2v1.2h-1.2zM441.61,287.13h1.2v1.2h-1.2zM445.48,287.13h1.2v1.2h-1.2zM449.35,287.13h1.2v1.2h-1.2zM453.22,287.13h1.2v1.2h-1.2zM457.09,287.13h1.2v1.2h-1.2zM460.96,287.13h1.2v1.2h-1.2zM464.83,287.13h1.2v1.2h-1.2zM468.70,287.13h1.2v1.2h-1.2zM472.57,287.13h1.2v1.2h-1.2zM476.44,287.13h1.2v1.2h-1.2zM480.31,287.13h1.2v1.2h-1.2zM484.18,287.13h1.2v1.2h-1.2zM488.05,287.13h1.2v1.2h-1.2zM491.92,287.13h1.2v1.2h-1.2zM495.79,287.13h1.2v1.2h-1.2zM499.66,287.13h1.2v1.2h-1.2zM503.53,287.13h1.2v1.2h-1.2zM507.40,287.13h1.2v1.2h-1.2zM511.27,287.13h1.2v1.2h-1.2zM515.14,287.13h1.2v1.2h-1.2zM519.01,287.13h1.2v1.2h-1.2zM522.88,287.13h1.2v1.2h-1.2zM193.93,291.00h1.2v1.2h-1.2zM197.80,291.00h1.2v1.2h-1.2zM201.67,291.00h1.2v1.2h-1.2zM205.54,291.00h1.2v1.2h-1.2zM209.41,291.00h1.2v1.2h-1.2zM213.28,291.00h1.2v1.2h-1.2zM217.15,291.00h1.2v1.2h-1.2zM221.02,291.00h1.2v1.2h-1.2zM224.89,291.00h1.2v1.2h-1.2zM228.76,291.00h1.2v1.2h-1.2zM232.63,291.00h1.2v1.2h-1.2zM236.50,291.00h1.2v1.2h-1.2zM240.37,291.00h1.2v1.2h-1.2zM244.24,291.00h1.2v1.2h-1.2zM248.11,291.00h1.2v1.2h-1.2zM251.98,291.00h1.2v1.2h-1.2zM255.85,291.00h1.2v1.2h-1.2zM290.68,291.00h1.2v1.2h-1.2zM294.55,291.00h1.2v1.2h-1.2zM298.42,291.00h1.2v1.2h-1.2zM302.29,291.00h1.2v1.2h-1.2zM306.16,291.00h1.2v1.2h-1.2zM310.03,291.00h1.2v1.2h-1.2zM313.90,291.00h1.2v1.2h-1.2zM317.77,291.00h1.2v1.2h-1.2zM321.64,291.00h1.2v1.2h-1.2zM325.51,291.00h1.2v1.2h-1.2zM329.38,291.00h1.2v1.2h-1.2zM333.25,291.00h1.2v1.2h-1.2zM337.12,291.00h1.2v1.2h-1.2zM340.99,291.00h1.2v1.2h-1.2zM344.86,291.00h1.2v1.2h-1.2zM348.73,291.00h1.2v1.2h-1.2zM352.60,291.00h1.2v1.2h-1.2zM356.47,291.00h1.2v1.2h-1.2zM371.95,291.00h1.2v1.2h-1.2zM375.82,291.00h1.2v1.2h-1.2zM379.69,291.00h1.2v1.2h-1.2zM383.56,291.00h1.2v1.2h-1.2zM387.43,291.00h1.2v1.2h-1.2zM391.30,291.00h1.2v1.2h-1.2zM395.17,291.00h1.2v1.2h-1.2zM399.04,291.00h1.2v1.2h-1.2zM402.91,291.00h1.2v1.2h-1.2zM406.78,291.00h1.2v1.2h-1.2zM410.65,291.00h1.2v1.2h-1.2zM414.52,291.00h1.2v1.2h-1.2zM418.39,291.00h1.2v1.2h-1.2zM422.26,291.00h1.2v1.2h-1.2zM426.13,291.00h1.2v1.2h-1.2zM430.00,291.00h1.2v1.2h-1.2zM433.87,291.00h1.2v1.2h-1.2zM437.74,291.00h1.2v1.2h-1.2zM441.61,291.00h1.2v1.2h-1.2zM445.48,291.00h1.2v1.2h-1.2zM449.35,291.00h1.2v1.2h-1.2zM453.22,291.00h1.2v1.2h-1.2zM457.09,291.00h1.2v1.2h-1.2zM460.96,291.00h1.2v1.2h-1.2zM464.83,291.00h1.2v1.2h-1.2zM468.70,291.00h1.2v1.2h-1.2zM472.57,291.00h1.2v1.2h-1.2zM476.44,291.00h1.2v1.2h-1.2zM480.31,291.00h1.2v1.2h-1.2zM484.18,291.00h1.2v1.2h-1.2zM488.05,291.00h1.2v1.2h-1.2zM491.92,291.00h1.2v1.2h-1.2zM495.79,291.00h1.2v1.2h-1.2zM499.66,291.00h1.2v1.2h-1.2zM503.53,291.00h1.2v1.2h-1.2zM507.40,291.00h1.2v1.2h-1.2zM511.27,291.00h1.2v1.2h-1.2zM515.14,291.00h1.2v1.2h-1.2zM519.01,291.00h1.2v1.2h-1.2zM522.88,291.00h1.2v1.2h-1.2zM193.93,294.87h1.2v1.2h-1.2zM197.80,294.87h1.2v1.2h-1.2zM201.67,294.87h1.2v1.2h-1.2zM205.54,294.87h1.2v1.2h-1.2zM209.41,294.87h1.2v1.2h-1.2zM213.28,294.87h1.2v1.2h-1.2zM217.15,294.87h1.2v1.2h-1.2zM221.02,294.87h1.2v1.2h-1.2zM224.89,294.87h1.2v1.2h-1.2zM228.76,294.87h1.2v1.2h-1.2zM232.63,294.87h1.2v1.2h-1.2zM236.50,294.87h1.2v1.2h-1.2zM240.37,294.87h1.2v1.2h-1.2zM244.24,294.87h1.2v1.2h-1.2zM248.11,294.87h1.2v1.2h-1.2zM251.98,294.87h1.2v1.2h-1.2zM255.85,294.87h1.2v1.2h-1.2zM259.72,294.87h1.2v1.2h-1.2zM286.81,294.87h1.2v1.2h-1.2zM290.68,294.87h1.2v1.2h-1.2zM294.55,294.87h1.2v1.2h-1.2zM298.42,294.87h1.2v1.2h-1.2zM302.29,294.87h1.2v1.2h-1.2zM306.16,294.87h1.2v1.2h-1.2zM310.03,294.87h1.2v1.2h-1.2zM313.90,294.87h1.2v1.2h-1.2zM317.77,294.87h1.2v1.2h-1.2zM321.64,294.87h1.2v1.2h-1.2zM325.51,294.87h1.2v1.2h-1.2zM329.38,294.87h1.2v1.2h-1.2zM333.25,294.87h1.2v1.2h-1.2zM337.12,294.87h1.2v1.2h-1.2zM340.99,294.87h1.2v1.2h-1.2zM344.86,294.87h1.2v1.2h-1.2zM348.73,294.87h1.2v1.2h-1.2zM352.60,294.87h1.2v1.2h-1.2zM356.47,294.87h1.2v1.2h-1.2zM368.08,294.87h1.2v1.2h-1.2zM371.95,294.87h1.2v1.2h-1.2zM375.82,294.87h1.2v1.2h-1.2zM379.69,294.87h1.2v1.2h-1.2zM383.56,294.87h1.2v1.2h-1.2zM387.43,294.87h1.2v1.2h-1.2zM391.30,294.87h1.2v1.2h-1.2zM395.17,294.87h1.2v1.2h-1.2zM399.04,294.87h1.2v1.2h-1.2zM402.91,294.87h1.2v1.2h-1.2zM406.78,294.87h1.2v1.2h-1.2zM410.65,294.87h1.2v1.2h-1.2zM414.52,294.87h1.2v1.2h-1.2zM418.39,294.87h1.2v1.2h-1.2zM422.26,294.87h1.2v1.2h-1.2zM426.13,294.87h1.2v1.2h-1.2zM430.00,294.87h1.2v1.2h-1.2zM433.87,294.87h1.2v1.2h-1.2zM437.74,294.87h1.2v1.2h-1.2zM441.61,294.87h1.2v1.2h-1.2zM445.48,294.87h1.2v1.2h-1.2zM449.35,294.87h1.2v1.2h-1.2zM453.22,294.87h1.2v1.2h-1.2zM457.09,294.87h1.2v1.2h-1.2zM460.96,294.87h1.2v1.2h-1.2zM464.83,294.87h1.2v1.2h-1.2zM468.70,294.87h1.2v1.2h-1.2zM472.57,294.87h1.2v1.2h-1.2zM476.44,294.87h1.2v1.2h-1.2zM480.31,294.87h1.2v1.2h-1.2zM484.18,294.87h1.2v1.2h-1.2zM488.05,294.87h1.2v1.2h-1.2zM491.92,294.87h1.2v1.2h-1.2zM495.79,294.87h1.2v1.2h-1.2zM499.66,294.87h1.2v1.2h-1.2zM503.53,294.87h1.2v1.2h-1.2zM507.40,294.87h1.2v1.2h-1.2zM511.27,294.87h1.2v1.2h-1.2zM515.14,294.87h1.2v1.2h-1.2zM519.01,294.87h1.2v1.2h-1.2zM522.88,294.87h1.2v1.2h-1.2zM190.06,298.74h1.2v1.2h-1.2zM193.93,298.74h1.2v1.2h-1.2zM197.80,298.74h1.2v1.2h-1.2zM201.67,298.74h1.2v1.2h-1.2zM205.54,298.74h1.2v1.2h-1.2zM209.41,298.74h1.2v1.2h-1.2zM213.28,298.74h1.2v1.2h-1.2zM217.15,298.74h1.2v1.2h-1.2zM221.02,298.74h1.2v1.2h-1.2zM224.89,298.74h1.2v1.2h-1.2zM228.76,298.74h1.2v1.2h-1.2zM232.63,298.74h1.2v1.2h-1.2zM236.50,298.74h1.2v1.2h-1.2zM240.37,298.74h1.2v1.2h-1.2zM244.24,298.74h1.2v1.2h-1.2zM248.11,298.74h1.2v1.2h-1.2zM251.98,298.74h1.2v1.2h-1.2zM255.85,298.74h1.2v1.2h-1.2zM259.72,298.74h1.2v1.2h-1.2zM282.94,298.74h1.2v1.2h-1.2zM286.81,298.74h1.2v1.2h-1.2zM290.68,298.74h1.2v1.2h-1.2zM294.55,298.74h1.2v1.2h-1.2zM298.42,298.74h1.2v1.2h-1.2zM302.29,298.74h1.2v1.2h-1.2zM306.16,298.74h1.2v1.2h-1.2zM310.03,298.74h1.2v1.2h-1.2zM313.90,298.74h1.2v1.2h-1.2zM317.77,298.74h1.2v1.2h-1.2zM321.64,298.74h1.2v1.2h-1.2zM325.51,298.74h1.2v1.2h-1.2zM329.38,298.74h1.2v1.2h-1.2zM333.25,298.74h1.2v1.2h-1.2zM337.12,298.74h1.2v1.2h-1.2zM340.99,298.74h1.2v1.2h-1.2zM344.86,298.74h1.2v1.2h-1.2zM348.73,298.74h1.2v1.2h-1.2zM352.60,298.74h1.2v1.2h-1.2zM356.47,298.74h1.2v1.2h-1.2zM368.08,298.74h1.2v1.2h-1.2zM371.95,298.74h1.2v1.2h-1.2zM375.82,298.74h1.2v1.2h-1.2zM379.69,298.74h1.2v1.2h-1.2zM383.56,298.74h1.2v1.2h-1.2zM387.43,298.74h1.2v1.2h-1.2zM391.30,298.74h1.2v1.2h-1.2zM395.17,298.74h1.2v1.2h-1.2zM399.04,298.74h1.2v1.2h-1.2zM402.91,298.74h1.2v1.2h-1.2zM406.78,298.74h1.2v1.2h-1.2zM410.65,298.74h1.2v1.2h-1.2zM414.52,298.74h1.2v1.2h-1.2zM418.39,298.74h1.2v1.2h-1.2zM422.26,298.74h1.2v1.2h-1.2zM426.13,298.74h1.2v1.2h-1.2zM430.00,298.74h1.2v1.2h-1.2zM433.87,298.74h1.2v1.2h-1.2zM437.74,298.74h1.2v1.2h-1.2zM441.61,298.74h1.2v1.2h-1.2zM445.48,298.74h1.2v1.2h-1.2zM449.35,298.74h1.2v1.2h-1.2zM453.22,298.74h1.2v1.2h-1.2zM457.09,298.74h1.2v1.2h-1.2zM460.96,298.74h1.2v1.2h-1.2zM464.83,298.74h1.2v1.2h-1.2zM468.70,298.74h1.2v1.2h-1.2zM472.57,298.74h1.2v1.2h-1.2zM476.44,298.74h1.2v1.2h-1.2zM480.31,298.74h1.2v1.2h-1.2zM484.18,298.74h1.2v1.2h-1.2zM488.05,298.74h1.2v1.2h-1.2zM491.92,298.74h1.2v1.2h-1.2zM495.79,298.74h1.2v1.2h-1.2zM499.66,298.74h1.2v1.2h-1.2zM503.53,298.74h1.2v1.2h-1.2zM507.40,298.74h1.2v1.2h-1.2zM511.27,298.74h1.2v1.2h-1.2zM515.14,298.74h1.2v1.2h-1.2zM519.01,298.74h1.2v1.2h-1.2zM522.88,298.74h1.2v1.2h-1.2zM186.19,302.61h1.2v1.2h-1.2zM190.06,302.61h1.2v1.2h-1.2zM193.93,302.61h1.2v1.2h-1.2zM197.80,302.61h1.2v1.2h-1.2zM201.67,302.61h1.2v1.2h-1.2zM205.54,302.61h1.2v1.2h-1.2zM232.63,302.61h1.2v1.2h-1.2zM236.50,302.61h1.2v1.2h-1.2zM240.37,302.61h1.2v1.2h-1.2zM244.24,302.61h1.2v1.2h-1.2zM248.11,302.61h1.2v1.2h-1.2zM251.98,302.61h1.2v1.2h-1.2zM255.85,302.61h1.2v1.2h-1.2zM259.72,302.61h1.2v1.2h-1.2zM279.07,302.61h1.2v1.2h-1.2zM282.94,302.61h1.2v1.2h-1.2zM286.81,302.61h1.2v1.2h-1.2zM290.68,302.61h1.2v1.2h-1.2zM294.55,302.61h1.2v1.2h-1.2zM298.42,302.61h1.2v1.2h-1.2zM302.29,302.61h1.2v1.2h-1.2zM306.16,302.61h1.2v1.2h-1.2zM310.03,302.61h1.2v1.2h-1.2zM313.90,302.61h1.2v1.2h-1.2zM317.77,302.61h1.2v1.2h-1.2zM321.64,302.61h1.2v1.2h-1.2zM325.51,302.61h1.2v1.2h-1.2zM329.38,302.61h1.2v1.2h-1.2zM333.25,302.61h1.2v1.2h-1.2zM337.12,302.61h1.2v1.2h-1.2zM340.99,302.61h1.2v1.2h-1.2zM344.86,302.61h1.2v1.2h-1.2zM348.73,302.61h1.2v1.2h-1.2zM352.60,302.61h1.2v1.2h-1.2zM356.47,302.61h1.2v1.2h-1.2zM368.08,302.61h1.2v1.2h-1.2zM371.95,302.61h1.2v1.2h-1.2zM375.82,302.61h1.2v1.2h-1.2zM379.69,302.61h1.2v1.2h-1.2zM383.56,302.61h1.2v1.2h-1.2zM387.43,302.61h1.2v1.2h-1.2zM391.30,302.61h1.2v1.2h-1.2zM395.17,302.61h1.2v1.2h-1.2zM399.04,302.61h1.2v1.2h-1.2zM402.91,302.61h1.2v1.2h-1.2zM406.78,302.61h1.2v1.2h-1.2zM410.65,302.61h1.2v1.2h-1.2zM414.52,302.61h1.2v1.2h-1.2zM418.39,302.61h1.2v1.2h-1.2zM422.26,302.61h1.2v1.2h-1.2zM426.13,302.61h1.2v1.2h-1.2zM430.00,302.61h1.2v1.2h-1.2zM433.87,302.61h1.2v1.2h-1.2zM437.74,302.61h1.2v1.2h-1.2zM441.61,302.61h1.2v1.2h-1.2zM445.48,302.61h1.2v1.2h-1.2zM449.35,302.61h1.2v1.2h-1.2zM453.22,302.61h1.2v1.2h-1.2zM457.09,302.61h1.2v1.2h-1.2zM460.96,302.61h1.2v1.2h-1.2zM464.83,302.61h1.2v1.2h-1.2zM468.70,302.61h1.2v1.2h-1.2zM472.57,302.61h1.2v1.2h-1.2zM476.44,302.61h1.2v1.2h-1.2zM480.31,302.61h1.2v1.2h-1.2zM484.18,302.61h1.2v1.2h-1.2zM488.05,302.61h1.2v1.2h-1.2zM491.92,302.61h1.2v1.2h-1.2zM495.79,302.61h1.2v1.2h-1.2zM499.66,302.61h1.2v1.2h-1.2zM503.53,302.61h1.2v1.2h-1.2zM507.40,302.61h1.2v1.2h-1.2zM511.27,302.61h1.2v1.2h-1.2zM515.14,302.61h1.2v1.2h-1.2zM519.01,302.61h1.2v1.2h-1.2zM522.88,302.61h1.2v1.2h-1.2zM186.19,306.48h1.2v1.2h-1.2zM190.06,306.48h1.2v1.2h-1.2zM193.93,306.48h1.2v1.2h-1.2zM197.80,306.48h1.2v1.2h-1.2zM201.67,306.48h1.2v1.2h-1.2zM205.54,306.48h1.2v1.2h-1.2zM232.63,306.48h1.2v1.2h-1.2zM236.50,306.48h1.2v1.2h-1.2zM240.37,306.48h1.2v1.2h-1.2zM244.24,306.48h1.2v1.2h-1.2zM248.11,306.48h1.2v1.2h-1.2zM251.98,306.48h1.2v1.2h-1.2zM255.85,306.48h1.2v1.2h-1.2zM259.72,306.48h1.2v1.2h-1.2zM275.20,306.48h1.2v1.2h-1.2zM279.07,306.48h1.2v1.2h-1.2zM282.94,306.48h1.2v1.2h-1.2zM286.81,306.48h1.2v1.2h-1.2zM290.68,306.48h1.2v1.2h-1.2zM294.55,306.48h1.2v1.2h-1.2zM298.42,306.48h1.2v1.2h-1.2zM302.29,306.48h1.2v1.2h-1.2zM306.16,306.48h1.2v1.2h-1.2zM310.03,306.48h1.2v1.2h-1.2zM313.90,306.48h1.2v1.2h-1.2zM317.77,306.48h1.2v1.2h-1.2zM321.64,306.48h1.2v1.2h-1.2zM325.51,306.48h1.2v1.2h-1.2zM329.38,306.48h1.2v1.2h-1.2zM333.25,306.48h1.2v1.2h-1.2zM337.12,306.48h1.2v1.2h-1.2zM340.99,306.48h1.2v1.2h-1.2zM344.86,306.48h1.2v1.2h-1.2zM348.73,306.48h1.2v1.2h-1.2zM352.60,306.48h1.2v1.2h-1.2zM356.47,306.48h1.2v1.2h-1.2zM364.21,306.48h1.2v1.2h-1.2zM368.08,306.48h1.2v1.2h-1.2zM371.95,306.48h1.2v1.2h-1.2zM375.82,306.48h1.2v1.2h-1.2zM379.69,306.48h1.2v1.2h-1.2zM383.56,306.48h1.2v1.2h-1.2zM387.43,306.48h1.2v1.2h-1.2zM391.30,306.48h1.2v1.2h-1.2zM395.17,306.48h1.2v1.2h-1.2zM399.04,306.48h1.2v1.2h-1.2zM402.91,306.48h1.2v1.2h-1.2zM406.78,306.48h1.2v1.2h-1.2zM410.65,306.48h1.2v1.2h-1.2zM414.52,306.48h1.2v1.2h-1.2zM418.39,306.48h1.2v1.2h-1.2zM422.26,306.48h1.2v1.2h-1.2zM426.13,306.48h1.2v1.2h-1.2zM430.00,306.48h1.2v1.2h-1.2zM433.87,306.48h1.2v1.2h-1.2zM437.74,306.48h1.2v1.2h-1.2zM441.61,306.48h1.2v1.2h-1.2zM445.48,306.48h1.2v1.2h-1.2zM449.35,306.48h1.2v1.2h-1.2zM453.22,306.48h1.2v1.2h-1.2zM457.09,306.48h1.2v1.2h-1.2zM460.96,306.48h1.2v1.2h-1.2zM464.83,306.48h1.2v1.2h-1.2zM472.57,306.48h1.2v1.2h-1.2zM476.44,306.48h1.2v1.2h-1.2zM480.31,306.48h1.2v1.2h-1.2zM484.18,306.48h1.2v1.2h-1.2zM488.05,306.48h1.2v1.2h-1.2zM491.92,306.48h1.2v1.2h-1.2zM182.32,310.35h1.2v1.2h-1.2zM186.19,310.35h1.2v1.2h-1.2zM190.06,310.35h1.2v1.2h-1.2zM193.93,310.35h1.2v1.2h-1.2zM197.80,310.35h1.2v1.2h-1.2zM201.67,310.35h1.2v1.2h-1.2zM232.63,310.35h1.2v1.2h-1.2zM236.50,310.35h1.2v1.2h-1.2zM240.37,310.35h1.2v1.2h-1.2zM244.24,310.35h1.2v1.2h-1.2zM248.11,310.35h1.2v1.2h-1.2zM251.98,310.35h1.2v1.2h-1.2zM255.85,310.35h1.2v1.2h-1.2zM259.72,310.35h1.2v1.2h-1.2zM263.59,310.35h1.2v1.2h-1.2zM275.20,310.35h1.2v1.2h-1.2zM279.07,310.35h1.2v1.2h-1.2zM282.94,310.35h1.2v1.2h-1.2zM286.81,310.35h1.2v1.2h-1.2zM290.68,310.35h1.2v1.2h-1.2zM294.55,310.35h1.2v1.2h-1.2zM298.42,310.35h1.2v1.2h-1.2zM313.90,310.35h1.2v1.2h-1.2zM317.77,310.35h1.2v1.2h-1.2zM321.64,310.35h1.2v1.2h-1.2zM325.51,310.35h1.2v1.2h-1.2zM329.38,310.35h1.2v1.2h-1.2zM333.25,310.35h1.2v1.2h-1.2zM337.12,310.35h1.2v1.2h-1.2zM340.99,310.35h1.2v1.2h-1.2zM344.86,310.35h1.2v1.2h-1.2zM348.73,310.35h1.2v1.2h-1.2zM352.60,310.35h1.2v1.2h-1.2zM356.47,310.35h1.2v1.2h-1.2zM364.21,310.35h1.2v1.2h-1.2zM368.08,310.35h1.2v1.2h-1.2zM371.95,310.35h1.2v1.2h-1.2zM375.82,310.35h1.2v1.2h-1.2zM379.69,310.35h1.2v1.2h-1.2zM383.56,310.35h1.2v1.2h-1.2zM387.43,310.35h1.2v1.2h-1.2zM391.30,310.35h1.2v1.2h-1.2zM395.17,310.35h1.2v1.2h-1.2zM399.04,310.35h1.2v1.2h-1.2zM402.91,310.35h1.2v1.2h-1.2zM406.78,310.35h1.2v1.2h-1.2zM410.65,310.35h1.2v1.2h-1.2zM414.52,310.35h1.2v1.2h-1.2zM418.39,310.35h1.2v1.2h-1.2zM422.26,310.35h1.2v1.2h-1.2zM472.57,310.35h1.2v1.2h-1.2zM476.44,310.35h1.2v1.2h-1.2zM480.31,310.35h1.2v1.2h-1.2zM484.18,310.35h1.2v1.2h-1.2zM488.05,310.35h1.2v1.2h-1.2zM182.32,314.22h1.2v1.2h-1.2zM186.19,314.22h1.2v1.2h-1.2zM190.06,314.22h1.2v1.2h-1.2zM193.93,314.22h1.2v1.2h-1.2zM197.80,314.22h1.2v1.2h-1.2zM201.67,314.22h1.2v1.2h-1.2zM232.63,314.22h1.2v1.2h-1.2zM236.50,314.22h1.2v1.2h-1.2zM240.37,314.22h1.2v1.2h-1.2zM244.24,314.22h1.2v1.2h-1.2zM248.11,314.22h1.2v1.2h-1.2zM251.98,314.22h1.2v1.2h-1.2zM255.85,314.22h1.2v1.2h-1.2zM259.72,314.22h1.2v1.2h-1.2zM263.59,314.22h1.2v1.2h-1.2zM267.46,314.22h1.2v1.2h-1.2zM271.33,314.22h1.2v1.2h-1.2zM275.20,314.22h1.2v1.2h-1.2zM279.07,314.22h1.2v1.2h-1.2zM282.94,314.22h1.2v1.2h-1.2zM286.81,314.22h1.2v1.2h-1.2zM290.68,314.22h1.2v1.2h-1.2zM294.55,314.22h1.2v1.2h-1.2zM329.38,314.22h1.2v1.2h-1.2zM333.25,314.22h1.2v1.2h-1.2zM337.12,314.22h1.2v1.2h-1.2zM340.99,314.22h1.2v1.2h-1.2zM344.86,314.22h1.2v1.2h-1.2zM348.73,314.22h1.2v1.2h-1.2zM352.60,314.22h1.2v1.2h-1.2zM356.47,314.22h1.2v1.2h-1.2zM364.21,314.22h1.2v1.2h-1.2zM368.08,314.22h1.2v1.2h-1.2zM371.95,314.22h1.2v1.2h-1.2zM375.82,314.22h1.2v1.2h-1.2zM379.69,314.22h1.2v1.2h-1.2zM383.56,314.22h1.2v1.2h-1.2zM387.43,314.22h1.2v1.2h-1.2zM391.30,314.22h1.2v1.2h-1.2zM395.17,314.22h1.2v1.2h-1.2zM399.04,314.22h1.2v1.2h-1.2zM402.91,314.22h1.2v1.2h-1.2zM406.78,314.22h1.2v1.2h-1.2zM410.65,314.22h1.2v1.2h-1.2zM414.52,314.22h1.2v1.2h-1.2zM418.39,314.22h1.2v1.2h-1.2zM422.26,314.22h1.2v1.2h-1.2zM468.70,314.22h1.2v1.2h-1.2zM472.57,314.22h1.2v1.2h-1.2zM476.44,314.22h1.2v1.2h-1.2zM480.31,314.22h1.2v1.2h-1.2zM484.18,314.22h1.2v1.2h-1.2zM488.05,314.22h1.2v1.2h-1.2zM178.45,318.09h1.2v1.2h-1.2zM182.32,318.09h1.2v1.2h-1.2zM186.19,318.09h1.2v1.2h-1.2zM190.06,318.09h1.2v1.2h-1.2zM193.93,318.09h1.2v1.2h-1.2zM197.80,318.09h1.2v1.2h-1.2zM201.67,318.09h1.2v1.2h-1.2zM232.63,318.09h1.2v1.2h-1.2zM236.50,318.09h1.2v1.2h-1.2zM240.37,318.09h1.2v1.2h-1.2zM244.24,318.09h1.2v1.2h-1.2zM248.11,318.09h1.2v1.2h-1.2zM251.98,318.09h1.2v1.2h-1.2zM255.85,318.09h1.2v1.2h-1.2zM259.72,318.09h1.2v1.2h-1.2zM263.59,318.09h1.2v1.2h-1.2zM267.46,318.09h1.2v1.2h-1.2zM271.33,318.09h1.2v1.2h-1.2zM275.20,318.09h1.2v1.2h-1.2zM279.07,318.09h1.2v1.2h-1.2zM282.94,318.09h1.2v1.2h-1.2zM286.81,318.09h1.2v1.2h-1.2zM290.68,318.09h1.2v1.2h-1.2zM329.38,318.09h1.2v1.2h-1.2zM333.25,318.09h1.2v1.2h-1.2zM337.12,318.09h1.2v1.2h-1.2zM340.99,318.09h1.2v1.2h-1.2zM344.86,318.09h1.2v1.2h-1.2zM348.73,318.09h1.2v1.2h-1.2zM352.60,318.09h1.2v1.2h-1.2zM356.47,318.09h1.2v1.2h-1.2zM364.21,318.09h1.2v1.2h-1.2zM368.08,318.09h1.2v1.2h-1.2zM371.95,318.09h1.2v1.2h-1.2zM375.82,318.09h1.2v1.2h-1.2zM379.69,318.09h1.2v1.2h-1.2zM383.56,318.09h1.2v1.2h-1.2zM387.43,318.09h1.2v1.2h-1.2zM391.30,318.09h1.2v1.2h-1.2zM395.17,318.09h1.2v1.2h-1.2zM399.04,318.09h1.2v1.2h-1.2zM402.91,318.09h1.2v1.2h-1.2zM406.78,318.09h1.2v1.2h-1.2zM410.65,318.09h1.2v1.2h-1.2zM414.52,318.09h1.2v1.2h-1.2zM418.39,318.09h1.2v1.2h-1.2zM422.26,318.09h1.2v1.2h-1.2zM468.70,318.09h1.2v1.2h-1.2zM472.57,318.09h1.2v1.2h-1.2zM476.44,318.09h1.2v1.2h-1.2zM480.31,318.09h1.2v1.2h-1.2zM484.18,318.09h1.2v1.2h-1.2zM178.45,321.96h1.2v1.2h-1.2zM182.32,321.96h1.2v1.2h-1.2zM186.19,321.96h1.2v1.2h-1.2zM190.06,321.96h1.2v1.2h-1.2zM193.93,321.96h1.2v1.2h-1.2zM197.80,321.96h1.2v1.2h-1.2zM201.67,321.96h1.2v1.2h-1.2zM205.54,321.96h1.2v1.2h-1.2zM209.41,321.96h1.2v1.2h-1.2zM213.28,321.96h1.2v1.2h-1.2zM217.15,321.96h1.2v1.2h-1.2zM221.02,321.96h1.2v1.2h-1.2zM224.89,321.96h1.2v1.2h-1.2zM228.76,321.96h1.2v1.2h-1.2zM232.63,321.96h1.2v1.2h-1.2zM236.50,321.96h1.2v1.2h-1.2zM240.37,321.96h1.2v1.2h-1.2zM244.24,321.96h1.2v1.2h-1.2zM248.11,321.96h1.2v1.2h-1.2zM251.98,321.96h1.2v1.2h-1.2zM255.85,321.96h1.2v1.2h-1.2zM259.72,321.96h1.2v1.2h-1.2zM263.59,321.96h1.2v1.2h-1.2zM267.46,321.96h1.2v1.2h-1.2zM271.33,321.96h1.2v1.2h-1.2zM275.20,321.96h1.2v1.2h-1.2zM279.07,321.96h1.2v1.2h-1.2zM282.94,321.96h1.2v1.2h-1.2zM286.81,321.96h1.2v1.2h-1.2zM290.68,321.96h1.2v1.2h-1.2zM329.38,321.96h1.2v1.2h-1.2zM333.25,321.96h1.2v1.2h-1.2zM337.12,321.96h1.2v1.2h-1.2zM340.99,321.96h1.2v1.2h-1.2zM344.86,321.96h1.2v1.2h-1.2zM348.73,321.96h1.2v1.2h-1.2zM352.60,321.96h1.2v1.2h-1.2zM356.47,321.96h1.2v1.2h-1.2zM360.34,321.96h1.2v1.2h-1.2zM364.21,321.96h1.2v1.2h-1.2zM368.08,321.96h1.2v1.2h-1.2zM371.95,321.96h1.2v1.2h-1.2zM375.82,321.96h1.2v1.2h-1.2zM379.69,321.96h1.2v1.2h-1.2zM383.56,321.96h1.2v1.2h-1.2zM387.43,321.96h1.2v1.2h-1.2zM391.30,321.96h1.2v1.2h-1.2zM395.17,321.96h1.2v1.2h-1.2zM399.04,321.96h1.2v1.2h-1.2zM402.91,321.96h1.2v1.2h-1.2zM406.78,321.96h1.2v1.2h-1.2zM410.65,321.96h1.2v1.2h-1.2zM414.52,321.96h1.2v1.2h-1.2zM418.39,321.96h1.2v1.2h-1.2zM422.26,321.96h1.2v1.2h-1.2zM464.83,321.96h1.2v1.2h-1.2zM468.70,321.96h1.2v1.2h-1.2zM472.57,321.96h1.2v1.2h-1.2zM476.44,321.96h1.2v1.2h-1.2zM480.31,321.96h1.2v1.2h-1.2zM484.18,321.96h1.2v1.2h-1.2zM178.45,325.83h1.2v1.2h-1.2zM182.32,325.83h1.2v1.2h-1.2zM186.19,325.83h1.2v1.2h-1.2zM190.06,325.83h1.2v1.2h-1.2zM193.93,325.83h1.2v1.2h-1.2zM197.80,325.83h1.2v1.2h-1.2zM201.67,325.83h1.2v1.2h-1.2zM205.54,325.83h1.2v1.2h-1.2zM209.41,325.83h1.2v1.2h-1.2zM213.28,325.83h1.2v1.2h-1.2zM217.15,325.83h1.2v1.2h-1.2zM221.02,325.83h1.2v1.2h-1.2zM224.89,325.83h1.2v1.2h-1.2zM228.76,325.83h1.2v1.2h-1.2zM232.63,325.83h1.2v1.2h-1.2zM236.50,325.83h1.2v1.2h-1.2zM240.37,325.83h1.2v1.2h-1.2zM244.24,325.83h1.2v1.2h-1.2zM248.11,325.83h1.2v1.2h-1.2zM251.98,325.83h1.2v1.2h-1.2zM255.85,325.83h1.2v1.2h-1.2zM259.72,325.83h1.2v1.2h-1.2zM263.59,325.83h1.2v1.2h-1.2zM267.46,325.83h1.2v1.2h-1.2zM271.33,325.83h1.2v1.2h-1.2zM275.20,325.83h1.2v1.2h-1.2zM279.07,325.83h1.2v1.2h-1.2zM282.94,325.83h1.2v1.2h-1.2zM286.81,325.83h1.2v1.2h-1.2zM290.68,325.83h1.2v1.2h-1.2zM329.38,325.83h1.2v1.2h-1.2zM333.25,325.83h1.2v1.2h-1.2zM337.12,325.83h1.2v1.2h-1.2zM340.99,325.83h1.2v1.2h-1.2zM344.86,325.83h1.2v1.2h-1.2zM348.73,325.83h1.2v1.2h-1.2zM352.60,325.83h1.2v1.2h-1.2zM356.47,325.83h1.2v1.2h-1.2zM360.34,325.83h1.2v1.2h-1.2zM364.21,325.83h1.2v1.2h-1.2zM368.08,325.83h1.2v1.2h-1.2zM371.95,325.83h1.2v1.2h-1.2zM375.82,325.83h1.2v1.2h-1.2zM379.69,325.83h1.2v1.2h-1.2zM383.56,325.83h1.2v1.2h-1.2zM387.43,325.83h1.2v1.2h-1.2zM391.30,325.83h1.2v1.2h-1.2zM395.17,325.83h1.2v1.2h-1.2zM399.04,325.83h1.2v1.2h-1.2zM402.91,325.83h1.2v1.2h-1.2zM406.78,325.83h1.2v1.2h-1.2zM410.65,325.83h1.2v1.2h-1.2zM414.52,325.83h1.2v1.2h-1.2zM418.39,325.83h1.2v1.2h-1.2zM422.26,325.83h1.2v1.2h-1.2zM464.83,325.83h1.2v1.2h-1.2zM468.70,325.83h1.2v1.2h-1.2zM472.57,325.83h1.2v1.2h-1.2zM476.44,325.83h1.2v1.2h-1.2zM480.31,325.83h1.2v1.2h-1.2zM484.18,325.83h1.2v1.2h-1.2zM178.45,329.70h1.2v1.2h-1.2zM182.32,329.70h1.2v1.2h-1.2zM186.19,329.70h1.2v1.2h-1.2zM190.06,329.70h1.2v1.2h-1.2zM193.93,329.70h1.2v1.2h-1.2zM197.80,329.70h1.2v1.2h-1.2zM201.67,329.70h1.2v1.2h-1.2zM205.54,329.70h1.2v1.2h-1.2zM209.41,329.70h1.2v1.2h-1.2zM213.28,329.70h1.2v1.2h-1.2zM217.15,329.70h1.2v1.2h-1.2zM221.02,329.70h1.2v1.2h-1.2zM224.89,329.70h1.2v1.2h-1.2zM228.76,329.70h1.2v1.2h-1.2zM232.63,329.70h1.2v1.2h-1.2zM236.50,329.70h1.2v1.2h-1.2zM240.37,329.70h1.2v1.2h-1.2zM244.24,329.70h1.2v1.2h-1.2zM248.11,329.70h1.2v1.2h-1.2zM251.98,329.70h1.2v1.2h-1.2zM255.85,329.70h1.2v1.2h-1.2zM259.72,329.70h1.2v1.2h-1.2zM263.59,329.70h1.2v1.2h-1.2zM267.46,329.70h1.2v1.2h-1.2zM271.33,329.70h1.2v1.2h-1.2zM275.20,329.70h1.2v1.2h-1.2zM279.07,329.70h1.2v1.2h-1.2zM282.94,329.70h1.2v1.2h-1.2zM286.81,329.70h1.2v1.2h-1.2zM290.68,329.70h1.2v1.2h-1.2zM329.38,329.70h1.2v1.2h-1.2zM333.25,329.70h1.2v1.2h-1.2zM337.12,329.70h1.2v1.2h-1.2zM340.99,329.70h1.2v1.2h-1.2zM344.86,329.70h1.2v1.2h-1.2zM348.73,329.70h1.2v1.2h-1.2zM352.60,329.70h1.2v1.2h-1.2zM356.47,329.70h1.2v1.2h-1.2zM360.34,329.70h1.2v1.2h-1.2zM364.21,329.70h1.2v1.2h-1.2zM368.08,329.70h1.2v1.2h-1.2zM371.95,329.70h1.2v1.2h-1.2zM375.82,329.70h1.2v1.2h-1.2zM379.69,329.70h1.2v1.2h-1.2zM383.56,329.70h1.2v1.2h-1.2zM387.43,329.70h1.2v1.2h-1.2zM391.30,329.70h1.2v1.2h-1.2zM395.17,329.70h1.2v1.2h-1.2zM399.04,329.70h1.2v1.2h-1.2zM402.91,329.70h1.2v1.2h-1.2zM406.78,329.70h1.2v1.2h-1.2zM410.65,329.70h1.2v1.2h-1.2zM414.52,329.70h1.2v1.2h-1.2zM418.39,329.70h1.2v1.2h-1.2zM422.26,329.70h1.2v1.2h-1.2zM464.83,329.70h1.2v1.2h-1.2zM468.70,329.70h1.2v1.2h-1.2zM472.57,329.70h1.2v1.2h-1.2zM476.44,329.70h1.2v1.2h-1.2zM480.31,329.70h1.2v1.2h-1.2zM178.45,333.57h1.2v1.2h-1.2zM182.32,333.57h1.2v1.2h-1.2zM186.19,333.57h1.2v1.2h-1.2zM190.06,333.57h1.2v1.2h-1.2zM193.93,333.57h1.2v1.2h-1.2zM197.80,333.57h1.2v1.2h-1.2zM201.67,333.57h1.2v1.2h-1.2zM205.54,333.57h1.2v1.2h-1.2zM209.41,333.57h1.2v1.2h-1.2zM213.28,333.57h1.2v1.2h-1.2zM217.15,333.57h1.2v1.2h-1.2zM221.02,333.57h1.2v1.2h-1.2zM224.89,333.57h1.2v1.2h-1.2zM228.76,333.57h1.2v1.2h-1.2zM232.63,333.57h1.2v1.2h-1.2zM236.50,333.57h1.2v1.2h-1.2zM240.37,333.57h1.2v1.2h-1.2zM244.24,333.57h1.2v1.2h-1.2zM248.11,333.57h1.2v1.2h-1.2zM251.98,333.57h1.2v1.2h-1.2zM255.85,333.57h1.2v1.2h-1.2zM259.72,333.57h1.2v1.2h-1.2zM263.59,333.57h1.2v1.2h-1.2zM267.46,333.57h1.2v1.2h-1.2zM271.33,333.57h1.2v1.2h-1.2zM275.20,333.57h1.2v1.2h-1.2zM279.07,333.57h1.2v1.2h-1.2zM282.94,333.57h1.2v1.2h-1.2zM286.81,333.57h1.2v1.2h-1.2zM290.68,333.57h1.2v1.2h-1.2zM329.38,333.57h1.2v1.2h-1.2zM333.25,333.57h1.2v1.2h-1.2zM337.12,333.57h1.2v1.2h-1.2zM340.99,333.57h1.2v1.2h-1.2zM344.86,333.57h1.2v1.2h-1.2zM348.73,333.57h1.2v1.2h-1.2zM352.60,333.57h1.2v1.2h-1.2zM356.47,333.57h1.2v1.2h-1.2zM360.34,333.57h1.2v1.2h-1.2zM364.21,333.57h1.2v1.2h-1.2zM368.08,333.57h1.2v1.2h-1.2zM371.95,333.57h1.2v1.2h-1.2zM375.82,333.57h1.2v1.2h-1.2zM379.69,333.57h1.2v1.2h-1.2zM383.56,333.57h1.2v1.2h-1.2zM387.43,333.57h1.2v1.2h-1.2zM391.30,333.57h1.2v1.2h-1.2zM395.17,333.57h1.2v1.2h-1.2zM399.04,333.57h1.2v1.2h-1.2zM402.91,333.57h1.2v1.2h-1.2zM406.78,333.57h1.2v1.2h-1.2zM410.65,333.57h1.2v1.2h-1.2zM414.52,333.57h1.2v1.2h-1.2zM418.39,333.57h1.2v1.2h-1.2zM422.26,333.57h1.2v1.2h-1.2zM460.96,333.57h1.2v1.2h-1.2zM464.83,333.57h1.2v1.2h-1.2zM468.70,333.57h1.2v1.2h-1.2zM472.57,333.57h1.2v1.2h-1.2zM476.44,333.57h1.2v1.2h-1.2zM480.31,333.57h1.2v1.2h-1.2zM178.45,337.44h1.2v1.2h-1.2zM182.32,337.44h1.2v1.2h-1.2zM186.19,337.44h1.2v1.2h-1.2zM190.06,337.44h1.2v1.2h-1.2zM193.93,337.44h1.2v1.2h-1.2zM197.80,337.44h1.2v1.2h-1.2zM201.67,337.44h1.2v1.2h-1.2zM205.54,337.44h1.2v1.2h-1.2zM209.41,337.44h1.2v1.2h-1.2zM213.28,337.44h1.2v1.2h-1.2zM217.15,337.44h1.2v1.2h-1.2zM221.02,337.44h1.2v1.2h-1.2zM224.89,337.44h1.2v1.2h-1.2zM228.76,337.44h1.2v1.2h-1.2zM232.63,337.44h1.2v1.2h-1.2zM236.50,337.44h1.2v1.2h-1.2zM240.37,337.44h1.2v1.2h-1.2zM244.24,337.44h1.2v1.2h-1.2zM248.11,337.44h1.2v1.2h-1.2zM251.98,337.44h1.2v1.2h-1.2zM255.85,337.44h1.2v1.2h-1.2zM259.72,337.44h1.2v1.2h-1.2zM263.59,337.44h1.2v1.2h-1.2zM267.46,337.44h1.2v1.2h-1.2zM271.33,337.44h1.2v1.2h-1.2zM275.20,337.44h1.2v1.2h-1.2zM279.07,337.44h1.2v1.2h-1.2zM282.94,337.44h1.2v1.2h-1.2zM286.81,337.44h1.2v1.2h-1.2zM290.68,337.44h1.2v1.2h-1.2zM329.38,337.44h1.2v1.2h-1.2zM333.25,337.44h1.2v1.2h-1.2zM337.12,337.44h1.2v1.2h-1.2zM340.99,337.44h1.2v1.2h-1.2zM344.86,337.44h1.2v1.2h-1.2zM348.73,337.44h1.2v1.2h-1.2zM352.60,337.44h1.2v1.2h-1.2zM356.47,337.44h1.2v1.2h-1.2zM360.34,337.44h1.2v1.2h-1.2zM364.21,337.44h1.2v1.2h-1.2zM368.08,337.44h1.2v1.2h-1.2zM371.95,337.44h1.2v1.2h-1.2zM375.82,337.44h1.2v1.2h-1.2zM379.69,337.44h1.2v1.2h-1.2zM383.56,337.44h1.2v1.2h-1.2zM387.43,337.44h1.2v1.2h-1.2zM391.30,337.44h1.2v1.2h-1.2zM395.17,337.44h1.2v1.2h-1.2zM399.04,337.44h1.2v1.2h-1.2zM402.91,337.44h1.2v1.2h-1.2zM406.78,337.44h1.2v1.2h-1.2zM410.65,337.44h1.2v1.2h-1.2zM414.52,337.44h1.2v1.2h-1.2zM418.39,337.44h1.2v1.2h-1.2zM422.26,337.44h1.2v1.2h-1.2zM460.96,337.44h1.2v1.2h-1.2zM464.83,337.44h1.2v1.2h-1.2zM468.70,337.44h1.2v1.2h-1.2zM472.57,337.44h1.2v1.2h-1.2zM476.44,337.44h1.2v1.2h-1.2zM480.31,337.44h1.2v1.2h-1.2zM178.45,341.31h1.2v1.2h-1.2zM182.32,341.31h1.2v1.2h-1.2zM186.19,341.31h1.2v1.2h-1.2zM190.06,341.31h1.2v1.2h-1.2zM193.93,341.31h1.2v1.2h-1.2zM197.80,341.31h1.2v1.2h-1.2zM201.67,341.31h1.2v1.2h-1.2zM205.54,341.31h1.2v1.2h-1.2zM209.41,341.31h1.2v1.2h-1.2zM213.28,341.31h1.2v1.2h-1.2zM217.15,341.31h1.2v1.2h-1.2zM221.02,341.31h1.2v1.2h-1.2zM224.89,341.31h1.2v1.2h-1.2zM228.76,341.31h1.2v1.2h-1.2zM232.63,341.31h1.2v1.2h-1.2zM236.50,341.31h1.2v1.2h-1.2zM240.37,341.31h1.2v1.2h-1.2zM244.24,341.31h1.2v1.2h-1.2zM248.11,341.31h1.2v1.2h-1.2zM251.98,341.31h1.2v1.2h-1.2zM255.85,341.31h1.2v1.2h-1.2zM259.72,341.31h1.2v1.2h-1.2zM263.59,341.31h1.2v1.2h-1.2zM267.46,341.31h1.2v1.2h-1.2zM271.33,341.31h1.2v1.2h-1.2zM275.20,341.31h1.2v1.2h-1.2zM279.07,341.31h1.2v1.2h-1.2zM282.94,341.31h1.2v1.2h-1.2zM286.81,341.31h1.2v1.2h-1.2zM329.38,341.31h1.2v1.2h-1.2zM333.25,341.31h1.2v1.2h-1.2zM337.12,341.31h1.2v1.2h-1.2zM340.99,341.31h1.2v1.2h-1.2zM344.86,341.31h1.2v1.2h-1.2zM348.73,341.31h1.2v1.2h-1.2zM352.60,341.31h1.2v1.2h-1.2zM356.47,341.31h1.2v1.2h-1.2zM360.34,341.31h1.2v1.2h-1.2zM364.21,341.31h1.2v1.2h-1.2zM368.08,341.31h1.2v1.2h-1.2zM371.95,341.31h1.2v1.2h-1.2zM375.82,341.31h1.2v1.2h-1.2zM379.69,341.31h1.2v1.2h-1.2zM383.56,341.31h1.2v1.2h-1.2zM387.43,341.31h1.2v1.2h-1.2zM391.30,341.31h1.2v1.2h-1.2zM395.17,341.31h1.2v1.2h-1.2zM399.04,341.31h1.2v1.2h-1.2zM402.91,341.31h1.2v1.2h-1.2zM406.78,341.31h1.2v1.2h-1.2zM410.65,341.31h1.2v1.2h-1.2zM414.52,341.31h1.2v1.2h-1.2zM418.39,341.31h1.2v1.2h-1.2zM422.26,341.31h1.2v1.2h-1.2zM460.96,341.31h1.2v1.2h-1.2zM464.83,341.31h1.2v1.2h-1.2zM468.70,341.31h1.2v1.2h-1.2zM472.57,341.31h1.2v1.2h-1.2zM476.44,341.31h1.2v1.2h-1.2zM224.89,345.18h1.2v1.2h-1.2zM228.76,345.18h1.2v1.2h-1.2zM232.63,345.18h1.2v1.2h-1.2zM236.50,345.18h1.2v1.2h-1.2zM240.37,345.18h1.2v1.2h-1.2zM244.24,345.18h1.2v1.2h-1.2zM255.85,345.18h1.2v1.2h-1.2zM259.72,345.18h1.2v1.2h-1.2zM263.59,345.18h1.2v1.2h-1.2zM267.46,345.18h1.2v1.2h-1.2zM271.33,345.18h1.2v1.2h-1.2zM275.20,345.18h1.2v1.2h-1.2zM279.07,345.18h1.2v1.2h-1.2zM282.94,345.18h1.2v1.2h-1.2zM286.81,345.18h1.2v1.2h-1.2zM329.38,345.18h1.2v1.2h-1.2zM333.25,345.18h1.2v1.2h-1.2zM337.12,345.18h1.2v1.2h-1.2zM340.99,345.18h1.2v1.2h-1.2zM344.86,345.18h1.2v1.2h-1.2zM348.73,345.18h1.2v1.2h-1.2zM352.60,345.18h1.2v1.2h-1.2zM356.47,345.18h1.2v1.2h-1.2zM360.34,345.18h1.2v1.2h-1.2zM364.21,345.18h1.2v1.2h-1.2zM368.08,345.18h1.2v1.2h-1.2zM371.95,345.18h1.2v1.2h-1.2zM375.82,345.18h1.2v1.2h-1.2zM379.69,345.18h1.2v1.2h-1.2zM383.56,345.18h1.2v1.2h-1.2zM387.43,345.18h1.2v1.2h-1.2zM391.30,345.18h1.2v1.2h-1.2zM395.17,345.18h1.2v1.2h-1.2zM399.04,345.18h1.2v1.2h-1.2zM402.91,345.18h1.2v1.2h-1.2zM406.78,345.18h1.2v1.2h-1.2zM410.65,345.18h1.2v1.2h-1.2zM414.52,345.18h1.2v1.2h-1.2zM418.39,345.18h1.2v1.2h-1.2zM422.26,345.18h1.2v1.2h-1.2zM457.09,345.18h1.2v1.2h-1.2zM460.96,345.18h1.2v1.2h-1.2zM464.83,345.18h1.2v1.2h-1.2zM468.70,345.18h1.2v1.2h-1.2zM472.57,345.18h1.2v1.2h-1.2zM476.44,345.18h1.2v1.2h-1.2zM162.97,349.05h1.2v1.2h-1.2zM166.84,349.05h1.2v1.2h-1.2zM170.71,349.05h1.2v1.2h-1.2zM174.58,349.05h1.2v1.2h-1.2zM178.45,349.05h1.2v1.2h-1.2zM182.32,349.05h1.2v1.2h-1.2zM186.19,349.05h1.2v1.2h-1.2zM190.06,349.05h1.2v1.2h-1.2zM193.93,349.05h1.2v1.2h-1.2zM197.80,349.05h1.2v1.2h-1.2zM201.67,349.05h1.2v1.2h-1.2zM205.54,349.05h1.2v1.2h-1.2zM209.41,349.05h1.2v1.2h-1.2zM213.28,349.05h1.2v1.2h-1.2zM217.15,349.05h1.2v1.2h-1.2zM221.02,349.05h1.2v1.2h-1.2zM224.89,349.05h1.2v1.2h-1.2zM228.76,349.05h1.2v1.2h-1.2zM232.63,349.05h1.2v1.2h-1.2zM236.50,349.05h1.2v1.2h-1.2zM240.37,349.05h1.2v1.2h-1.2zM244.24,349.05h1.2v1.2h-1.2zM255.85,349.05h1.2v1.2h-1.2zM259.72,349.05h1.2v1.2h-1.2zM263.59,349.05h1.2v1.2h-1.2zM267.46,349.05h1.2v1.2h-1.2zM271.33,349.05h1.2v1.2h-1.2zM275.20,349.05h1.2v1.2h-1.2zM279.07,349.05h1.2v1.2h-1.2zM282.94,349.05h1.2v1.2h-1.2zM286.81,349.05h1.2v1.2h-1.2zM329.38,349.05h1.2v1.2h-1.2zM333.25,349.05h1.2v1.2h-1.2zM337.12,349.05h1.2v1.2h-1.2zM340.99,349.05h1.2v1.2h-1.2zM344.86,349.05h1.2v1.2h-1.2zM348.73,349.05h1.2v1.2h-1.2zM352.60,349.05h1.2v1.2h-1.2zM356.47,349.05h1.2v1.2h-1.2zM360.34,349.05h1.2v1.2h-1.2zM364.21,349.05h1.2v1.2h-1.2zM368.08,349.05h1.2v1.2h-1.2zM371.95,349.05h1.2v1.2h-1.2zM375.82,349.05h1.2v1.2h-1.2zM379.69,349.05h1.2v1.2h-1.2zM457.09,349.05h1.2v1.2h-1.2zM460.96,349.05h1.2v1.2h-1.2zM464.83,349.05h1.2v1.2h-1.2zM468.70,349.05h1.2v1.2h-1.2zM472.57,349.05h1.2v1.2h-1.2zM476.44,349.05h1.2v1.2h-1.2zM162.97,352.92h1.2v1.2h-1.2zM166.84,352.92h1.2v1.2h-1.2zM170.71,352.92h1.2v1.2h-1.2zM174.58,352.92h1.2v1.2h-1.2zM178.45,352.92h1.2v1.2h-1.2zM182.32,352.92h1.2v1.2h-1.2zM186.19,352.92h1.2v1.2h-1.2zM190.06,352.92h1.2v1.2h-1.2zM193.93,352.92h1.2v1.2h-1.2zM197.80,352.92h1.2v1.2h-1.2zM201.67,352.92h1.2v1.2h-1.2zM205.54,352.92h1.2v1.2h-1.2zM209.41,352.92h1.2v1.2h-1.2zM213.28,352.92h1.2v1.2h-1.2zM217.15,352.92h1.2v1.2h-1.2zM221.02,352.92h1.2v1.2h-1.2zM224.89,352.92h1.2v1.2h-1.2zM228.76,352.92h1.2v1.2h-1.2zM232.63,352.92h1.2v1.2h-1.2zM236.50,352.92h1.2v1.2h-1.2zM240.37,352.92h1.2v1.2h-1.2zM244.24,352.92h1.2v1.2h-1.2zM255.85,352.92h1.2v1.2h-1.2zM259.72,352.92h1.2v1.2h-1.2zM263.59,352.92h1.2v1.2h-1.2zM267.46,352.92h1.2v1.2h-1.2zM271.33,352.92h1.2v1.2h-1.2zM275.20,352.92h1.2v1.2h-1.2zM279.07,352.92h1.2v1.2h-1.2zM282.94,352.92h1.2v1.2h-1.2zM286.81,352.92h1.2v1.2h-1.2zM290.68,352.92h1.2v1.2h-1.2zM294.55,352.92h1.2v1.2h-1.2zM298.42,352.92h1.2v1.2h-1.2zM302.29,352.92h1.2v1.2h-1.2zM306.16,352.92h1.2v1.2h-1.2zM310.03,352.92h1.2v1.2h-1.2zM313.90,352.92h1.2v1.2h-1.2zM317.77,352.92h1.2v1.2h-1.2zM321.64,352.92h1.2v1.2h-1.2zM325.51,352.92h1.2v1.2h-1.2zM329.38,352.92h1.2v1.2h-1.2zM333.25,352.92h1.2v1.2h-1.2zM337.12,352.92h1.2v1.2h-1.2zM340.99,352.92h1.2v1.2h-1.2zM344.86,352.92h1.2v1.2h-1.2zM348.73,352.92h1.2v1.2h-1.2zM352.60,352.92h1.2v1.2h-1.2zM356.47,352.92h1.2v1.2h-1.2zM360.34,352.92h1.2v1.2h-1.2zM457.09,352.92h1.2v1.2h-1.2zM460.96,352.92h1.2v1.2h-1.2zM464.83,352.92h1.2v1.2h-1.2zM468.70,352.92h1.2v1.2h-1.2zM472.57,352.92h1.2v1.2h-1.2zM162.97,356.79h1.2v1.2h-1.2zM166.84,356.79h1.2v1.2h-1.2zM170.71,356.79h1.2v1.2h-1.2zM174.58,356.79h1.2v1.2h-1.2zM178.45,356.79h1.2v1.2h-1.2zM182.32,356.79h1.2v1.2h-1.2zM186.19,356.79h1.2v1.2h-1.2zM190.06,356.79h1.2v1.2h-1.2zM193.93,356.79h1.2v1.2h-1.2zM197.80,356.79h1.2v1.2h-1.2zM201.67,356.79h1.2v1.2h-1.2zM205.54,356.79h1.2v1.2h-1.2zM209.41,356.79h1.2v1.2h-1.2zM213.28,356.79h1.2v1.2h-1.2zM217.15,356.79h1.2v1.2h-1.2zM221.02,356.79h1.2v1.2h-1.2zM224.89,356.79h1.2v1.2h-1.2zM228.76,356.79h1.2v1.2h-1.2zM232.63,356.79h1.2v1.2h-1.2zM236.50,356.79h1.2v1.2h-1.2zM240.37,356.79h1.2v1.2h-1.2zM244.24,356.79h1.2v1.2h-1.2zM255.85,356.79h1.2v1.2h-1.2zM259.72,356.79h1.2v1.2h-1.2zM263.59,356.79h1.2v1.2h-1.2zM267.46,356.79h1.2v1.2h-1.2zM271.33,356.79h1.2v1.2h-1.2zM275.20,356.79h1.2v1.2h-1.2zM279.07,356.79h1.2v1.2h-1.2zM282.94,356.79h1.2v1.2h-1.2zM286.81,356.79h1.2v1.2h-1.2zM290.68,356.79h1.2v1.2h-1.2zM294.55,356.79h1.2v1.2h-1.2zM298.42,356.79h1.2v1.2h-1.2zM302.29,356.79h1.2v1.2h-1.2zM306.16,356.79h1.2v1.2h-1.2zM310.03,356.79h1.2v1.2h-1.2zM313.90,356.79h1.2v1.2h-1.2zM317.77,356.79h1.2v1.2h-1.2zM321.64,356.79h1.2v1.2h-1.2zM325.51,356.79h1.2v1.2h-1.2zM329.38,356.79h1.2v1.2h-1.2zM333.25,356.79h1.2v1.2h-1.2zM337.12,356.79h1.2v1.2h-1.2zM340.99,356.79h1.2v1.2h-1.2zM344.86,356.79h1.2v1.2h-1.2zM348.73,356.79h1.2v1.2h-1.2zM352.60,356.79h1.2v1.2h-1.2zM356.47,356.79h1.2v1.2h-1.2zM360.34,356.79h1.2v1.2h-1.2zM453.22,356.79h1.2v1.2h-1.2zM457.09,356.79h1.2v1.2h-1.2zM460.96,356.79h1.2v1.2h-1.2zM464.83,356.79h1.2v1.2h-1.2zM468.70,356.79h1.2v1.2h-1.2zM472.57,356.79h1.2v1.2h-1.2zM162.97,360.66h1.2v1.2h-1.2zM166.84,360.66h1.2v1.2h-1.2zM170.71,360.66h1.2v1.2h-1.2zM174.58,360.66h1.2v1.2h-1.2zM178.45,360.66h1.2v1.2h-1.2zM182.32,360.66h1.2v1.2h-1.2zM186.19,360.66h1.2v1.2h-1.2zM190.06,360.66h1.2v1.2h-1.2zM193.93,360.66h1.2v1.2h-1.2zM197.80,360.66h1.2v1.2h-1.2zM201.67,360.66h1.2v1.2h-1.2zM205.54,360.66h1.2v1.2h-1.2zM209.41,360.66h1.2v1.2h-1.2zM213.28,360.66h1.2v1.2h-1.2zM217.15,360.66h1.2v1.2h-1.2zM221.02,360.66h1.2v1.2h-1.2zM224.89,360.66h1.2v1.2h-1.2zM228.76,360.66h1.2v1.2h-1.2zM232.63,360.66h1.2v1.2h-1.2zM236.50,360.66h1.2v1.2h-1.2zM240.37,360.66h1.2v1.2h-1.2zM244.24,360.66h1.2v1.2h-1.2zM255.85,360.66h1.2v1.2h-1.2zM259.72,360.66h1.2v1.2h-1.2zM263.59,360.66h1.2v1.2h-1.2zM267.46,360.66h1.2v1.2h-1.2zM271.33,360.66h1.2v1.2h-1.2zM275.20,360.66h1.2v1.2h-1.2zM279.07,360.66h1.2v1.2h-1.2zM282.94,360.66h1.2v1.2h-1.2zM286.81,360.66h1.2v1.2h-1.2zM290.68,360.66h1.2v1.2h-1.2zM294.55,360.66h1.2v1.2h-1.2zM298.42,360.66h1.2v1.2h-1.2zM302.29,360.66h1.2v1.2h-1.2zM306.16,360.66h1.2v1.2h-1.2zM310.03,360.66h1.2v1.2h-1.2zM313.90,360.66h1.2v1.2h-1.2zM317.77,360.66h1.2v1.2h-1.2zM321.64,360.66h1.2v1.2h-1.2zM325.51,360.66h1.2v1.2h-1.2zM329.38,360.66h1.2v1.2h-1.2zM333.25,360.66h1.2v1.2h-1.2zM337.12,360.66h1.2v1.2h-1.2zM340.99,360.66h1.2v1.2h-1.2zM344.86,360.66h1.2v1.2h-1.2zM348.73,360.66h1.2v1.2h-1.2zM352.60,360.66h1.2v1.2h-1.2zM356.47,360.66h1.2v1.2h-1.2zM360.34,360.66h1.2v1.2h-1.2zM453.22,360.66h1.2v1.2h-1.2zM457.09,360.66h1.2v1.2h-1.2zM460.96,360.66h1.2v1.2h-1.2zM464.83,360.66h1.2v1.2h-1.2zM468.70,360.66h1.2v1.2h-1.2zM472.57,360.66h1.2v1.2h-1.2zM162.97,364.53h1.2v1.2h-1.2zM166.84,364.53h1.2v1.2h-1.2zM170.71,364.53h1.2v1.2h-1.2zM174.58,364.53h1.2v1.2h-1.2zM178.45,364.53h1.2v1.2h-1.2zM182.32,364.53h1.2v1.2h-1.2zM186.19,364.53h1.2v1.2h-1.2zM190.06,364.53h1.2v1.2h-1.2zM193.93,364.53h1.2v1.2h-1.2zM197.80,364.53h1.2v1.2h-1.2zM201.67,364.53h1.2v1.2h-1.2zM205.54,364.53h1.2v1.2h-1.2zM209.41,364.53h1.2v1.2h-1.2zM213.28,364.53h1.2v1.2h-1.2zM217.15,364.53h1.2v1.2h-1.2zM221.02,364.53h1.2v1.2h-1.2zM224.89,364.53h1.2v1.2h-1.2zM228.76,364.53h1.2v1.2h-1.2zM232.63,364.53h1.2v1.2h-1.2zM236.50,364.53h1.2v1.2h-1.2zM240.37,364.53h1.2v1.2h-1.2zM244.24,364.53h1.2v1.2h-1.2zM255.85,364.53h1.2v1.2h-1.2zM259.72,364.53h1.2v1.2h-1.2zM263.59,364.53h1.2v1.2h-1.2zM267.46,364.53h1.2v1.2h-1.2zM271.33,364.53h1.2v1.2h-1.2zM275.20,364.53h1.2v1.2h-1.2zM279.07,364.53h1.2v1.2h-1.2zM282.94,364.53h1.2v1.2h-1.2zM286.81,364.53h1.2v1.2h-1.2zM290.68,364.53h1.2v1.2h-1.2zM294.55,364.53h1.2v1.2h-1.2zM298.42,364.53h1.2v1.2h-1.2zM302.29,364.53h1.2v1.2h-1.2zM306.16,364.53h1.2v1.2h-1.2zM310.03,364.53h1.2v1.2h-1.2zM313.90,364.53h1.2v1.2h-1.2zM317.77,364.53h1.2v1.2h-1.2zM321.64,364.53h1.2v1.2h-1.2zM325.51,364.53h1.2v1.2h-1.2zM329.38,364.53h1.2v1.2h-1.2zM333.25,364.53h1.2v1.2h-1.2zM337.12,364.53h1.2v1.2h-1.2zM340.99,364.53h1.2v1.2h-1.2zM344.86,364.53h1.2v1.2h-1.2zM348.73,364.53h1.2v1.2h-1.2zM352.60,364.53h1.2v1.2h-1.2zM356.47,364.53h1.2v1.2h-1.2zM360.34,364.53h1.2v1.2h-1.2zM449.35,364.53h1.2v1.2h-1.2zM453.22,364.53h1.2v1.2h-1.2zM457.09,364.53h1.2v1.2h-1.2zM460.96,364.53h1.2v1.2h-1.2zM464.83,364.53h1.2v1.2h-1.2zM468.70,364.53h1.2v1.2h-1.2zM162.97,368.40h1.2v1.2h-1.2zM166.84,368.40h1.2v1.2h-1.2zM170.71,368.40h1.2v1.2h-1.2zM174.58,368.40h1.2v1.2h-1.2zM178.45,368.40h1.2v1.2h-1.2zM182.32,368.40h1.2v1.2h-1.2zM186.19,368.40h1.2v1.2h-1.2zM190.06,368.40h1.2v1.2h-1.2zM193.93,368.40h1.2v1.2h-1.2zM197.80,368.40h1.2v1.2h-1.2zM201.67,368.40h1.2v1.2h-1.2zM205.54,368.40h1.2v1.2h-1.2zM209.41,368.40h1.2v1.2h-1.2zM213.28,368.40h1.2v1.2h-1.2zM217.15,368.40h1.2v1.2h-1.2zM221.02,368.40h1.2v1.2h-1.2zM224.89,368.40h1.2v1.2h-1.2zM228.76,368.40h1.2v1.2h-1.2zM232.63,368.40h1.2v1.2h-1.2zM236.50,368.40h1.2v1.2h-1.2zM240.37,368.40h1.2v1.2h-1.2zM244.24,368.40h1.2v1.2h-1.2zM255.85,368.40h1.2v1.2h-1.2zM259.72,368.40h1.2v1.2h-1.2zM263.59,368.40h1.2v1.2h-1.2zM267.46,368.40h1.2v1.2h-1.2zM271.33,368.40h1.2v1.2h-1.2zM275.20,368.40h1.2v1.2h-1.2zM279.07,368.40h1.2v1.2h-1.2zM282.94,368.40h1.2v1.2h-1.2zM286.81,368.40h1.2v1.2h-1.2zM290.68,368.40h1.2v1.2h-1.2zM294.55,368.40h1.2v1.2h-1.2zM298.42,368.40h1.2v1.2h-1.2zM302.29,368.40h1.2v1.2h-1.2zM306.16,368.40h1.2v1.2h-1.2zM310.03,368.40h1.2v1.2h-1.2zM313.90,368.40h1.2v1.2h-1.2zM317.77,368.40h1.2v1.2h-1.2zM321.64,368.40h1.2v1.2h-1.2zM325.51,368.40h1.2v1.2h-1.2zM329.38,368.40h1.2v1.2h-1.2zM333.25,368.40h1.2v1.2h-1.2zM337.12,368.40h1.2v1.2h-1.2zM340.99,368.40h1.2v1.2h-1.2zM344.86,368.40h1.2v1.2h-1.2zM348.73,368.40h1.2v1.2h-1.2zM352.60,368.40h1.2v1.2h-1.2zM356.47,368.40h1.2v1.2h-1.2zM360.34,368.40h1.2v1.2h-1.2zM449.35,368.40h1.2v1.2h-1.2zM453.22,368.40h1.2v1.2h-1.2zM457.09,368.40h1.2v1.2h-1.2zM460.96,368.40h1.2v1.2h-1.2zM464.83,368.40h1.2v1.2h-1.2zM468.70,368.40h1.2v1.2h-1.2zM162.97,372.27h1.2v1.2h-1.2zM166.84,372.27h1.2v1.2h-1.2zM170.71,372.27h1.2v1.2h-1.2zM174.58,372.27h1.2v1.2h-1.2zM178.45,372.27h1.2v1.2h-1.2zM182.32,372.27h1.2v1.2h-1.2zM186.19,372.27h1.2v1.2h-1.2zM190.06,372.27h1.2v1.2h-1.2zM193.93,372.27h1.2v1.2h-1.2zM197.80,372.27h1.2v1.2h-1.2zM201.67,372.27h1.2v1.2h-1.2zM205.54,372.27h1.2v1.2h-1.2zM209.41,372.27h1.2v1.2h-1.2zM213.28,372.27h1.2v1.2h-1.2zM217.15,372.27h1.2v1.2h-1.2zM221.02,372.27h1.2v1.2h-1.2zM224.89,372.27h1.2v1.2h-1.2zM228.76,372.27h1.2v1.2h-1.2zM232.63,372.27h1.2v1.2h-1.2zM236.50,372.27h1.2v1.2h-1.2zM240.37,372.27h1.2v1.2h-1.2zM244.24,372.27h1.2v1.2h-1.2zM255.85,372.27h1.2v1.2h-1.2zM259.72,372.27h1.2v1.2h-1.2zM263.59,372.27h1.2v1.2h-1.2zM267.46,372.27h1.2v1.2h-1.2zM271.33,372.27h1.2v1.2h-1.2zM275.20,372.27h1.2v1.2h-1.2zM279.07,372.27h1.2v1.2h-1.2zM282.94,372.27h1.2v1.2h-1.2zM286.81,372.27h1.2v1.2h-1.2zM290.68,372.27h1.2v1.2h-1.2zM294.55,372.27h1.2v1.2h-1.2zM298.42,372.27h1.2v1.2h-1.2zM302.29,372.27h1.2v1.2h-1.2zM306.16,372.27h1.2v1.2h-1.2zM310.03,372.27h1.2v1.2h-1.2zM313.90,372.27h1.2v1.2h-1.2zM317.77,372.27h1.2v1.2h-1.2zM321.64,372.27h1.2v1.2h-1.2zM325.51,372.27h1.2v1.2h-1.2zM329.38,372.27h1.2v1.2h-1.2zM333.25,372.27h1.2v1.2h-1.2zM337.12,372.27h1.2v1.2h-1.2zM340.99,372.27h1.2v1.2h-1.2zM344.86,372.27h1.2v1.2h-1.2zM348.73,372.27h1.2v1.2h-1.2zM352.60,372.27h1.2v1.2h-1.2zM356.47,372.27h1.2v1.2h-1.2zM360.34,372.27h1.2v1.2h-1.2zM449.35,372.27h1.2v1.2h-1.2zM453.22,372.27h1.2v1.2h-1.2zM457.09,372.27h1.2v1.2h-1.2zM460.96,372.27h1.2v1.2h-1.2zM464.83,372.27h1.2v1.2h-1.2zM162.97,376.14h1.2v1.2h-1.2zM166.84,376.14h1.2v1.2h-1.2zM170.71,376.14h1.2v1.2h-1.2zM174.58,376.14h1.2v1.2h-1.2zM178.45,376.14h1.2v1.2h-1.2zM182.32,376.14h1.2v1.2h-1.2zM186.19,376.14h1.2v1.2h-1.2zM190.06,376.14h1.2v1.2h-1.2zM193.93,376.14h1.2v1.2h-1.2zM197.80,376.14h1.2v1.2h-1.2zM201.67,376.14h1.2v1.2h-1.2zM205.54,376.14h1.2v1.2h-1.2zM209.41,376.14h1.2v1.2h-1.2zM213.28,376.14h1.2v1.2h-1.2zM217.15,376.14h1.2v1.2h-1.2zM221.02,376.14h1.2v1.2h-1.2zM224.89,376.14h1.2v1.2h-1.2zM228.76,376.14h1.2v1.2h-1.2zM232.63,376.14h1.2v1.2h-1.2zM236.50,376.14h1.2v1.2h-1.2zM240.37,376.14h1.2v1.2h-1.2zM244.24,376.14h1.2v1.2h-1.2zM255.85,376.14h1.2v1.2h-1.2zM259.72,376.14h1.2v1.2h-1.2zM263.59,376.14h1.2v1.2h-1.2zM267.46,376.14h1.2v1.2h-1.2zM271.33,376.14h1.2v1.2h-1.2zM275.20,376.14h1.2v1.2h-1.2zM279.07,376.14h1.2v1.2h-1.2zM282.94,376.14h1.2v1.2h-1.2zM286.81,376.14h1.2v1.2h-1.2zM290.68,376.14h1.2v1.2h-1.2zM294.55,376.14h1.2v1.2h-1.2zM298.42,376.14h1.2v1.2h-1.2zM302.29,376.14h1.2v1.2h-1.2zM306.16,376.14h1.2v1.2h-1.2zM337.12,376.14h1.2v1.2h-1.2zM340.99,376.14h1.2v1.2h-1.2zM344.86,376.14h1.2v1.2h-1.2zM348.73,376.14h1.2v1.2h-1.2zM352.60,376.14h1.2v1.2h-1.2zM356.47,376.14h1.2v1.2h-1.2zM360.34,376.14h1.2v1.2h-1.2zM364.21,376.14h1.2v1.2h-1.2zM391.30,376.14h1.2v1.2h-1.2zM395.17,376.14h1.2v1.2h-1.2zM399.04,376.14h1.2v1.2h-1.2zM402.91,376.14h1.2v1.2h-1.2zM406.78,376.14h1.2v1.2h-1.2zM410.65,376.14h1.2v1.2h-1.2zM433.87,376.14h1.2v1.2h-1.2zM437.74,376.14h1.2v1.2h-1.2zM441.61,376.14h1.2v1.2h-1.2zM445.48,376.14h1.2v1.2h-1.2zM449.35,376.14h1.2v1.2h-1.2zM453.22,376.14h1.2v1.2h-1.2zM457.09,376.14h1.2v1.2h-1.2zM460.96,376.14h1.2v1.2h-1.2zM464.83,376.14h1.2v1.2h-1.2zM468.70,376.14h1.2v1.2h-1.2zM472.57,376.14h1.2v1.2h-1.2zM495.79,376.14h1.2v1.2h-1.2zM499.66,376.14h1.2v1.2h-1.2zM503.53,376.14h1.2v1.2h-1.2zM507.40,376.14h1.2v1.2h-1.2zM511.27,376.14h1.2v1.2h-1.2zM515.14,376.14h1.2v1.2h-1.2zM519.01,376.14h1.2v1.2h-1.2zM522.88,376.14h1.2v1.2h-1.2zM526.75,376.14h1.2v1.2h-1.2zM530.62,376.14h1.2v1.2h-1.2zM534.49,376.14h1.2v1.2h-1.2zM538.36,376.14h1.2v1.2h-1.2zM542.23,376.14h1.2v1.2h-1.2zM546.10,376.14h1.2v1.2h-1.2zM549.97,376.14h1.2v1.2h-1.2zM553.84,376.14h1.2v1.2h-1.2zM557.71,376.14h1.2v1.2h-1.2zM561.58,376.14h1.2v1.2h-1.2zM565.45,376.14h1.2v1.2h-1.2zM569.32,376.14h1.2v1.2h-1.2zM573.19,376.14h1.2v1.2h-1.2zM162.97,380.01h1.2v1.2h-1.2zM166.84,380.01h1.2v1.2h-1.2zM170.71,380.01h1.2v1.2h-1.2zM174.58,380.01h1.2v1.2h-1.2zM178.45,380.01h1.2v1.2h-1.2zM182.32,380.01h1.2v1.2h-1.2zM186.19,380.01h1.2v1.2h-1.2zM190.06,380.01h1.2v1.2h-1.2zM193.93,380.01h1.2v1.2h-1.2zM197.80,380.01h1.2v1.2h-1.2zM201.67,380.01h1.2v1.2h-1.2zM205.54,380.01h1.2v1.2h-1.2zM209.41,380.01h1.2v1.2h-1.2zM213.28,380.01h1.2v1.2h-1.2zM217.15,380.01h1.2v1.2h-1.2zM221.02,380.01h1.2v1.2h-1.2zM224.89,380.01h1.2v1.2h-1.2zM228.76,380.01h1.2v1.2h-1.2zM232.63,380.01h1.2v1.2h-1.2zM236.50,380.01h1.2v1.2h-1.2zM240.37,380.01h1.2v1.2h-1.2zM244.24,380.01h1.2v1.2h-1.2zM255.85,380.01h1.2v1.2h-1.2zM259.72,380.01h1.2v1.2h-1.2zM263.59,380.01h1.2v1.2h-1.2zM267.46,380.01h1.2v1.2h-1.2zM271.33,380.01h1.2v1.2h-1.2zM275.20,380.01h1.2v1.2h-1.2zM279.07,380.01h1.2v1.2h-1.2zM282.94,380.01h1.2v1.2h-1.2zM286.81,380.01h1.2v1.2h-1.2zM290.68,380.01h1.2v1.2h-1.2zM294.55,380.01h1.2v1.2h-1.2zM298.42,380.01h1.2v1.2h-1.2zM302.29,380.01h1.2v1.2h-1.2zM306.16,380.01h1.2v1.2h-1.2zM310.03,380.01h1.2v1.2h-1.2zM337.12,380.01h1.2v1.2h-1.2zM340.99,380.01h1.2v1.2h-1.2zM344.86,380.01h1.2v1.2h-1.2zM348.73,380.01h1.2v1.2h-1.2zM352.60,380.01h1.2v1.2h-1.2zM356.47,380.01h1.2v1.2h-1.2zM360.34,380.01h1.2v1.2h-1.2zM364.21,380.01h1.2v1.2h-1.2zM391.30,380.01h1.2v1.2h-1.2zM395.17,380.01h1.2v1.2h-1.2zM399.04,380.01h1.2v1.2h-1.2zM402.91,380.01h1.2v1.2h-1.2zM406.78,380.01h1.2v1.2h-1.2zM410.65,380.01h1.2v1.2h-1.2zM433.87,380.01h1.2v1.2h-1.2zM437.74,380.01h1.2v1.2h-1.2zM441.61,380.01h1.2v1.2h-1.2zM445.48,380.01h1.2v1.2h-1.2zM449.35,380.01h1.2v1.2h-1.2zM453.22,380.01h1.2v1.2h-1.2zM457.09,380.01h1.2v1.2h-1.2zM460.96,380.01h1.2v1.2h-1.2zM464.83,380.01h1.2v1.2h-1.2zM468.70,380.01h1.2v1.2h-1.2zM472.57,380.01h1.2v1.2h-1.2zM499.66,380.01h1.2v1.2h-1.2zM503.53,380.01h1.2v1.2h-1.2zM507.40,380.01h1.2v1.2h-1.2zM511.27,380.01h1.2v1.2h-1.2zM515.14,380.01h1.2v1.2h-1.2zM519.01,380.01h1.2v1.2h-1.2zM522.88,380.01h1.2v1.2h-1.2zM526.75,380.01h1.2v1.2h-1.2zM530.62,380.01h1.2v1.2h-1.2zM534.49,380.01h1.2v1.2h-1.2zM538.36,380.01h1.2v1.2h-1.2zM542.23,380.01h1.2v1.2h-1.2zM546.10,380.01h1.2v1.2h-1.2zM549.97,380.01h1.2v1.2h-1.2zM553.84,380.01h1.2v1.2h-1.2zM557.71,380.01h1.2v1.2h-1.2zM561.58,380.01h1.2v1.2h-1.2zM565.45,380.01h1.2v1.2h-1.2zM569.32,380.01h1.2v1.2h-1.2zM573.19,380.01h1.2v1.2h-1.2zM286.81,383.88h1.2v1.2h-1.2zM290.68,383.88h1.2v1.2h-1.2zM294.55,383.88h1.2v1.2h-1.2zM298.42,383.88h1.2v1.2h-1.2zM302.29,383.88h1.2v1.2h-1.2zM306.16,383.88h1.2v1.2h-1.2zM310.03,383.88h1.2v1.2h-1.2zM333.25,383.88h1.2v1.2h-1.2zM337.12,383.88h1.2v1.2h-1.2zM340.99,383.88h1.2v1.2h-1.2zM344.86,383.88h1.2v1.2h-1.2zM348.73,383.88h1.2v1.2h-1.2zM352.60,383.88h1.2v1.2h-1.2zM356.47,383.88h1.2v1.2h-1.2zM360.34,383.88h1.2v1.2h-1.2zM364.21,383.88h1.2v1.2h-1.2zM387.43,383.88h1.2v1.2h-1.2zM391.30,383.88h1.2v1.2h-1.2zM395.17,383.88h1.2v1.2h-1.2zM399.04,383.88h1.2v1.2h-1.2zM402.91,383.88h1.2v1.2h-1.2zM406.78,383.88h1.2v1.2h-1.2zM410.65,383.88h1.2v1.2h-1.2zM430.00,383.88h1.2v1.2h-1.2zM433.87,383.88h1.2v1.2h-1.2zM437.74,383.88h1.2v1.2h-1.2zM441.61,383.88h1.2v1.2h-1.2zM445.48,383.88h1.2v1.2h-1.2zM449.35,383.88h1.2v1.2h-1.2zM453.22,383.88h1.2v1.2h-1.2zM457.09,383.88h1.2v1.2h-1.2zM460.96,383.88h1.2v1.2h-1.2zM464.83,383.88h1.2v1.2h-1.2zM468.70,383.88h1.2v1.2h-1.2zM472.57,383.88h1.2v1.2h-1.2zM503.53,383.88h1.2v1.2h-1.2zM507.40,383.88h1.2v1.2h-1.2zM511.27,383.88h1.2v1.2h-1.2zM515.14,383.88h1.2v1.2h-1.2zM519.01,383.88h1.2v1.2h-1.2zM522.88,383.88h1.2v1.2h-1.2zM526.75,383.88h1.2v1.2h-1.2zM530.62,383.88h1.2v1.2h-1.2zM534.49,383.88h1.2v1.2h-1.2zM538.36,383.88h1.2v1.2h-1.2zM542.23,383.88h1.2v1.2h-1.2zM546.10,383.88h1.2v1.2h-1.2zM549.97,383.88h1.2v1.2h-1.2zM553.84,383.88h1.2v1.2h-1.2zM557.71,383.88h1.2v1.2h-1.2zM561.58,383.88h1.2v1.2h-1.2zM565.45,383.88h1.2v1.2h-1.2zM569.32,383.88h1.2v1.2h-1.2zM290.68,387.75h1.2v1.2h-1.2zM294.55,387.75h1.2v1.2h-1.2zM298.42,387.75h1.2v1.2h-1.2zM302.29,387.75h1.2v1.2h-1.2zM306.16,387.75h1.2v1.2h-1.2zM310.03,387.75h1.2v1.2h-1.2zM333.25,387.75h1.2v1.2h-1.2zM337.12,387.75h1.2v1.2h-1.2zM340.99,387.75h1.2v1.2h-1.2zM344.86,387.75h1.2v1.2h-1.2zM348.73,387.75h1.2v1.2h-1.2zM352.60,387.75h1.2v1.2h-1.2zM356.47,387.75h1.2v1.2h-1.2zM360.34,387.75h1.2v1.2h-1.2zM364.21,387.75h1.2v1.2h-1.2zM368.08,387.75h1.2v1.2h-1.2zM387.43,387.75h1.2v1.2h-1.2zM391.30,387.75h1.2v1.2h-1.2zM395.17,387.75h1.2v1.2h-1.2zM399.04,387.75h1.2v1.2h-1.2zM402.91,387.75h1.2v1.2h-1.2zM406.78,387.75h1.2v1.2h-1.2zM430.00,387.75h1.2v1.2h-1.2zM433.87,387.75h1.2v1.2h-1.2zM437.74,387.75h1.2v1.2h-1.2zM441.61,387.75h1.2v1.2h-1.2zM445.48,387.75h1.2v1.2h-1.2zM449.35,387.75h1.2v1.2h-1.2zM453.22,387.75h1.2v1.2h-1.2zM457.09,387.75h1.2v1.2h-1.2zM460.96,387.75h1.2v1.2h-1.2zM464.83,387.75h1.2v1.2h-1.2zM468.70,387.75h1.2v1.2h-1.2zM472.57,387.75h1.2v1.2h-1.2zM503.53,387.75h1.2v1.2h-1.2zM507.40,387.75h1.2v1.2h-1.2zM511.27,387.75h1.2v1.2h-1.2zM515.14,387.75h1.2v1.2h-1.2zM519.01,387.75h1.2v1.2h-1.2zM522.88,387.75h1.2v1.2h-1.2zM526.75,387.75h1.2v1.2h-1.2zM530.62,387.75h1.2v1.2h-1.2zM534.49,387.75h1.2v1.2h-1.2zM538.36,387.75h1.2v1.2h-1.2zM542.23,387.75h1.2v1.2h-1.2zM546.10,387.75h1.2v1.2h-1.2zM549.97,387.75h1.2v1.2h-1.2zM553.84,387.75h1.2v1.2h-1.2zM557.71,387.75h1.2v1.2h-1.2zM561.58,387.75h1.2v1.2h-1.2zM565.45,387.75h1.2v1.2h-1.2zM290.68,391.62h1.2v1.2h-1.2zM294.55,391.62h1.2v1.2h-1.2zM298.42,391.62h1.2v1.2h-1.2zM302.29,391.62h1.2v1.2h-1.2zM306.16,391.62h1.2v1.2h-1.2zM310.03,391.62h1.2v1.2h-1.2zM333.25,391.62h1.2v1.2h-1.2zM337.12,391.62h1.2v1.2h-1.2zM340.99,391.62h1.2v1.2h-1.2zM344.86,391.62h1.2v1.2h-1.2zM348.73,391.62h1.2v1.2h-1.2zM352.60,391.62h1.2v1.2h-1.2zM356.47,391.62h1.2v1.2h-1.2zM360.34,391.62h1.2v1.2h-1.2zM364.21,391.62h1.2v1.2h-1.2zM368.08,391.62h1.2v1.2h-1.2zM387.43,391.62h1.2v1.2h-1.2zM391.30,391.62h1.2v1.2h-1.2zM395.17,391.62h1.2v1.2h-1.2zM399.04,391.62h1.2v1.2h-1.2zM402.91,391.62h1.2v1.2h-1.2zM406.78,391.62h1.2v1.2h-1.2zM430.00,391.62h1.2v1.2h-1.2zM433.87,391.62h1.2v1.2h-1.2zM437.74,391.62h1.2v1.2h-1.2zM441.61,391.62h1.2v1.2h-1.2zM445.48,391.62h1.2v1.2h-1.2zM449.35,391.62h1.2v1.2h-1.2zM453.22,391.62h1.2v1.2h-1.2zM457.09,391.62h1.2v1.2h-1.2zM460.96,391.62h1.2v1.2h-1.2zM464.83,391.62h1.2v1.2h-1.2zM468.70,391.62h1.2v1.2h-1.2zM472.57,391.62h1.2v1.2h-1.2zM476.44,391.62h1.2v1.2h-1.2zM507.40,391.62h1.2v1.2h-1.2zM511.27,391.62h1.2v1.2h-1.2zM515.14,391.62h1.2v1.2h-1.2zM519.01,391.62h1.2v1.2h-1.2zM522.88,391.62h1.2v1.2h-1.2zM526.75,391.62h1.2v1.2h-1.2zM530.62,391.62h1.2v1.2h-1.2zM534.49,391.62h1.2v1.2h-1.2zM538.36,391.62h1.2v1.2h-1.2zM542.23,391.62h1.2v1.2h-1.2zM546.10,391.62h1.2v1.2h-1.2zM549.97,391.62h1.2v1.2h-1.2zM553.84,391.62h1.2v1.2h-1.2zM557.71,391.62h1.2v1.2h-1.2zM561.58,391.62h1.2v1.2h-1.2zM565.45,391.62h1.2v1.2h-1.2zM290.68,395.49h1.2v1.2h-1.2zM294.55,395.49h1.2v1.2h-1.2zM298.42,395.49h1.2v1.2h-1.2zM302.29,395.49h1.2v1.2h-1.2zM306.16,395.49h1.2v1.2h-1.2zM310.03,395.49h1.2v1.2h-1.2zM333.25,395.49h1.2v1.2h-1.2zM337.12,395.49h1.2v1.2h-1.2zM340.99,395.49h1.2v1.2h-1.2zM344.86,395.49h1.2v1.2h-1.2zM348.73,395.49h1.2v1.2h-1.2zM352.60,395.49h1.2v1.2h-1.2zM356.47,395.49h1.2v1.2h-1.2zM360.34,395.49h1.2v1.2h-1.2zM364.21,395.49h1.2v1.2h-1.2zM368.08,395.49h1.2v1.2h-1.2zM387.43,395.49h1.2v1.2h-1.2zM391.30,395.49h1.2v1.2h-1.2zM395.17,395.49h1.2v1.2h-1.2zM399.04,395.49h1.2v1.2h-1.2zM402.91,395.49h1.2v1.2h-1.2zM406.78,395.49h1.2v1.2h-1.2zM430.00,395.49h1.2v1.2h-1.2zM433.87,395.49h1.2v1.2h-1.2zM437.74,395.49h1.2v1.2h-1.2zM441.61,395.49h1.2v1.2h-1.2zM445.48,395.49h1.2v1.2h-1.2zM449.35,395.49h1.2v1.2h-1.2zM453.22,395.49h1.2v1.2h-1.2zM457.09,395.49h1.2v1.2h-1.2zM460.96,395.49h1.2v1.2h-1.2zM464.83,395.49h1.2v1.2h-1.2zM468.70,395.49h1.2v1.2h-1.2zM472.57,395.49h1.2v1.2h-1.2zM476.44,395.49h1.2v1.2h-1.2zM511.27,395.49h1.2v1.2h-1.2zM515.14,395.49h1.2v1.2h-1.2zM519.01,395.49h1.2v1.2h-1.2zM522.88,395.49h1.2v1.2h-1.2zM526.75,395.49h1.2v1.2h-1.2zM530.62,395.49h1.2v1.2h-1.2zM534.49,395.49h1.2v1.2h-1.2zM538.36,395.49h1.2v1.2h-1.2zM542.23,395.49h1.2v1.2h-1.2zM546.10,395.49h1.2v1.2h-1.2zM549.97,395.49h1.2v1.2h-1.2zM553.84,395.49h1.2v1.2h-1.2zM557.71,395.49h1.2v1.2h-1.2zM561.58,395.49h1.2v1.2h-1.2zM290.68,399.36h1.2v1.2h-1.2zM294.55,399.36h1.2v1.2h-1.2zM298.42,399.36h1.2v1.2h-1.2zM302.29,399.36h1.2v1.2h-1.2zM306.16,399.36h1.2v1.2h-1.2zM310.03,399.36h1.2v1.2h-1.2zM313.90,399.36h1.2v1.2h-1.2zM329.38,399.36h1.2v1.2h-1.2zM333.25,399.36h1.2v1.2h-1.2zM337.12,399.36h1.2v1.2h-1.2zM340.99,399.36h1.2v1.2h-1.2zM344.86,399.36h1.2v1.2h-1.2zM348.73,399.36h1.2v1.2h-1.2zM352.60,399.36h1.2v1.2h-1.2zM356.47,399.36h1.2v1.2h-1.2zM360.34,399.36h1.2v1.2h-1.2zM364.21,399.36h1.2v1.2h-1.2zM368.08,399.36h1.2v1.2h-1.2zM387.43,399.36h1.2v1.2h-1.2zM391.30,399.36h1.2v1.2h-1.2zM395.17,399.36h1.2v1.2h-1.2zM399.04,399.36h1.2v1.2h-1.2zM402.91,399.36h1.2v1.2h-1.2zM406.78,399.36h1.2v1.2h-1.2zM426.13,399.36h1.2v1.2h-1.2zM430.00,399.36h1.2v1.2h-1.2zM433.87,399.36h1.2v1.2h-1.2zM437.74,399.36h1.2v1.2h-1.2zM464.83,399.36h1.2v1.2h-1.2zM468.70,399.36h1.2v1.2h-1.2zM472.57,399.36h1.2v1.2h-1.2zM476.44,399.36h1.2v1.2h-1.2zM511.27,399.36h1.2v1.2h-1.2zM515.14,399.36h1.2v1.2h-1.2zM519.01,399.36h1.2v1.2h-1.2zM522.88,399.36h1.2v1.2h-1.2zM526.75,399.36h1.2v1.2h-1.2zM530.62,399.36h1.2v1.2h-1.2zM534.49,399.36h1.2v1.2h-1.2zM538.36,399.36h1.2v1.2h-1.2zM542.23,399.36h1.2v1.2h-1.2zM546.10,399.36h1.2v1.2h-1.2zM549.97,399.36h1.2v1.2h-1.2zM553.84,399.36h1.2v1.2h-1.2zM557.71,399.36h1.2v1.2h-1.2zM290.68,403.23h1.2v1.2h-1.2zM294.55,403.23h1.2v1.2h-1.2zM298.42,403.23h1.2v1.2h-1.2zM302.29,403.23h1.2v1.2h-1.2zM306.16,403.23h1.2v1.2h-1.2zM310.03,403.23h1.2v1.2h-1.2zM313.90,403.23h1.2v1.2h-1.2zM329.38,403.23h1.2v1.2h-1.2zM333.25,403.23h1.2v1.2h-1.2zM337.12,403.23h1.2v1.2h-1.2zM340.99,403.23h1.2v1.2h-1.2zM344.86,403.23h1.2v1.2h-1.2zM348.73,403.23h1.2v1.2h-1.2zM352.60,403.23h1.2v1.2h-1.2zM356.47,403.23h1.2v1.2h-1.2zM360.34,403.23h1.2v1.2h-1.2zM364.21,403.23h1.2v1.2h-1.2zM368.08,403.23h1.2v1.2h-1.2zM383.56,403.23h1.2v1.2h-1.2zM387.43,403.23h1.2v1.2h-1.2zM391.30,403.23h1.2v1.2h-1.2zM395.17,403.23h1.2v1.2h-1.2zM399.04,403.23h1.2v1.2h-1.2zM402.91,403.23h1.2v1.2h-1.2zM406.78,403.23h1.2v1.2h-1.2zM426.13,403.23h1.2v1.2h-1.2zM430.00,403.23h1.2v1.2h-1.2zM433.87,403.23h1.2v1.2h-1.2zM437.74,403.23h1.2v1.2h-1.2zM460.96,403.23h1.2v1.2h-1.2zM464.83,403.23h1.2v1.2h-1.2zM468.70,403.23h1.2v1.2h-1.2zM472.57,403.23h1.2v1.2h-1.2zM476.44,403.23h1.2v1.2h-1.2zM515.14,403.23h1.2v1.2h-1.2zM519.01,403.23h1.2v1.2h-1.2zM522.88,403.23h1.2v1.2h-1.2zM526.75,403.23h1.2v1.2h-1.2zM530.62,403.23h1.2v1.2h-1.2zM534.49,403.23h1.2v1.2h-1.2zM538.36,403.23h1.2v1.2h-1.2zM542.23,403.23h1.2v1.2h-1.2zM546.10,403.23h1.2v1.2h-1.2zM549.97,403.23h1.2v1.2h-1.2zM553.84,403.23h1.2v1.2h-1.2zM557.71,403.23h1.2v1.2h-1.2zM294.55,407.10h1.2v1.2h-1.2zM298.42,407.10h1.2v1.2h-1.2zM302.29,407.10h1.2v1.2h-1.2zM306.16,407.10h1.2v1.2h-1.2zM310.03,407.10h1.2v1.2h-1.2zM313.90,407.10h1.2v1.2h-1.2zM329.38,407.10h1.2v1.2h-1.2zM333.25,407.10h1.2v1.2h-1.2zM337.12,407.10h1.2v1.2h-1.2zM340.99,407.10h1.2v1.2h-1.2zM344.86,407.10h1.2v1.2h-1.2zM348.73,407.10h1.2v1.2h-1.2zM352.60,407.10h1.2v1.2h-1.2zM356.47,407.10h1.2v1.2h-1.2zM360.34,407.10h1.2v1.2h-1.2zM364.21,407.10h1.2v1.2h-1.2zM368.08,407.10h1.2v1.2h-1.2zM371.95,407.10h1.2v1.2h-1.2zM383.56,407.10h1.2v1.2h-1.2zM387.43,407.10h1.2v1.2h-1.2zM391.30,407.10h1.2v1.2h-1.2zM395.17,407.10h1.2v1.2h-1.2zM399.04,407.10h1.2v1.2h-1.2zM402.91,407.10h1.2v1.2h-1.2zM426.13,407.10h1.2v1.2h-1.2zM430.00,407.10h1.2v1.2h-1.2zM433.87,407.10h1.2v1.2h-1.2zM437.74,407.10h1.2v1.2h-1.2zM441.61,407.10h1.2v1.2h-1.2zM460.96,407.10h1.2v1.2h-1.2zM464.83,407.10h1.2v1.2h-1.2zM468.70,407.10h1.2v1.2h-1.2zM472.57,407.10h1.2v1.2h-1.2zM476.44,407.10h1.2v1.2h-1.2zM519.01,407.10h1.2v1.2h-1.2zM522.88,407.10h1.2v1.2h-1.2zM526.75,407.10h1.2v1.2h-1.2zM530.62,407.10h1.2v1.2h-1.2zM534.49,407.10h1.2v1.2h-1.2zM538.36,407.10h1.2v1.2h-1.2zM542.23,407.10h1.2v1.2h-1.2zM546.10,407.10h1.2v1.2h-1.2zM549.97,407.10h1.2v1.2h-1.2zM553.84,407.10h1.2v1.2h-1.2zM294.55,410.97h1.2v1.2h-1.2zM298.42,410.97h1.2v1.2h-1.2zM302.29,410.97h1.2v1.2h-1.2zM306.16,410.97h1.2v1.2h-1.2zM310.03,410.97h1.2v1.2h-1.2zM313.90,410.97h1.2v1.2h-1.2zM329.38,410.97h1.2v1.2h-1.2zM333.25,410.97h1.2v1.2h-1.2zM337.12,410.97h1.2v1.2h-1.2zM340.99,410.97h1.2v1.2h-1.2zM344.86,410.97h1.2v1.2h-1.2zM348.73,410.97h1.2v1.2h-1.2zM352.60,410.97h1.2v1.2h-1.2zM356.47,410.97h1.2v1.2h-1.2zM360.34,410.97h1.2v1.2h-1.2zM364.21,410.97h1.2v1.2h-1.2zM368.08,410.97h1.2v1.2h-1.2zM371.95,410.97h1.2v1.2h-1.2zM383.56,410.97h1.2v1.2h-1.2zM387.43,410.97h1.2v1.2h-1.2zM391.30,410.97h1.2v1.2h-1.2zM395.17,410.97h1.2v1.2h-1.2zM399.04,410.97h1.2v1.2h-1.2zM402.91,410.97h1.2v1.2h-1.2zM422.26,410.97h1.2v1.2h-1.2zM426.13,410.97h1.2v1.2h-1.2zM430.00,410.97h1.2v1.2h-1.2zM433.87,410.97h1.2v1.2h-1.2zM437.74,410.97h1.2v1.2h-1.2zM441.61,410.97h1.2v1.2h-1.2zM460.96,410.97h1.2v1.2h-1.2zM464.83,410.97h1.2v1.2h-1.2zM468.70,410.97h1.2v1.2h-1.2zM472.57,410.97h1.2v1.2h-1.2zM476.44,410.97h1.2v1.2h-1.2zM480.31,410.97h1.2v1.2h-1.2zM522.88,410.97h1.2v1.2h-1.2zM526.75,410.97h1.2v1.2h-1.2zM530.62,410.97h1.2v1.2h-1.2zM534.49,410.97h1.2v1.2h-1.2zM538.36,410.97h1.2v1.2h-1.2zM542.23,410.97h1.2v1.2h-1.2zM546.10,410.97h1.2v1.2h-1.2zM549.97,410.97h1.2v1.2h-1.2zM553.84,410.97h1.2v1.2h-1.2zM294.55,414.84h1.2v1.2h-1.2zM298.42,414.84h1.2v1.2h-1.2zM302.29,414.84h1.2v1.2h-1.2zM306.16,414.84h1.2v1.2h-1.2zM310.03,414.84h1.2v1.2h-1.2zM313.90,414.84h1.2v1.2h-1.2zM325.51,414.84h1.2v1.2h-1.2zM329.38,414.84h1.2v1.2h-1.2zM333.25,414.84h1.2v1.2h-1.2zM337.12,414.84h1.2v1.2h-1.2zM340.99,414.84h1.2v1.2h-1.2zM348.73,414.84h1.2v1.2h-1.2zM352.60,414.84h1.2v1.2h-1.2zM356.47,414.84h1.2v1.2h-1.2zM360.34,414.84h1.2v1.2h-1.2zM364.21,414.84h1.2v1.2h-1.2zM368.08,414.84h1.2v1.2h-1.2zM371.95,414.84h1.2v1.2h-1.2zM383.56,414.84h1.2v1.2h-1.2zM387.43,414.84h1.2v1.2h-1.2zM391.30,414.84h1.2v1.2h-1.2zM395.17,414.84h1.2v1.2h-1.2zM399.04,414.84h1.2v1.2h-1.2zM402.91,414.84h1.2v1.2h-1.2zM422.26,414.84h1.2v1.2h-1.2zM426.13,414.84h1.2v1.2h-1.2zM430.00,414.84h1.2v1.2h-1.2zM433.87,414.84h1.2v1.2h-1.2zM437.74,414.84h1.2v1.2h-1.2zM441.61,414.84h1.2v1.2h-1.2zM460.96,414.84h1.2v1.2h-1.2zM464.83,414.84h1.2v1.2h-1.2zM468.70,414.84h1.2v1.2h-1.2zM472.57,414.84h1.2v1.2h-1.2zM476.44,414.84h1.2v1.2h-1.2zM480.31,414.84h1.2v1.2h-1.2zM522.88,414.84h1.2v1.2h-1.2zM526.75,414.84h1.2v1.2h-1.2zM530.62,414.84h1.2v1.2h-1.2zM534.49,414.84h1.2v1.2h-1.2zM538.36,414.84h1.2v1.2h-1.2zM542.23,414.84h1.2v1.2h-1.2zM546.10,414.84h1.2v1.2h-1.2zM549.97,414.84h1.2v1.2h-1.2zM553.84,414.84h1.2v1.2h-1.2zM294.55,418.71h1.2v1.2h-1.2zM298.42,418.71h1.2v1.2h-1.2zM302.29,418.71h1.2v1.2h-1.2zM306.16,418.71h1.2v1.2h-1.2zM310.03,418.71h1.2v1.2h-1.2zM313.90,418.71h1.2v1.2h-1.2zM317.77,418.71h1.2v1.2h-1.2zM325.51,418.71h1.2v1.2h-1.2zM329.38,418.71h1.2v1.2h-1.2zM333.25,418.71h1.2v1.2h-1.2zM337.12,418.71h1.2v1.2h-1.2zM340.99,418.71h1.2v1.2h-1.2zM352.60,418.71h1.2v1.2h-1.2zM356.47,418.71h1.2v1.2h-1.2zM360.34,418.71h1.2v1.2h-1.2zM364.21,418.71h1.2v1.2h-1.2zM368.08,418.71h1.2v1.2h-1.2zM371.95,418.71h1.2v1.2h-1.2zM379.69,418.71h1.2v1.2h-1.2zM383.56,418.71h1.2v1.2h-1.2zM387.43,418.71h1.2v1.2h-1.2zM391.30,418.71h1.2v1.2h-1.2zM395.17,418.71h1.2v1.2h-1.2zM399.04,418.71h1.2v1.2h-1.2zM402.91,418.71h1.2v1.2h-1.2zM422.26,418.71h1.2v1.2h-1.2zM426.13,418.71h1.2v1.2h-1.2zM430.00,418.71h1.2v1.2h-1.2zM433.87,418.71h1.2v1.2h-1.2zM437.74,418.71h1.2v1.2h-1.2zM441.61,418.71h1.2v1.2h-1.2zM445.48,418.71h1.2v1.2h-1.2zM457.09,418.71h1.2v1.2h-1.2zM460.96,418.71h1.2v1.2h-1.2zM464.83,418.71h1.2v1.2h-1.2zM468.70,418.71h1.2v1.2h-1.2zM472.57,418.71h1.2v1.2h-1.2zM476.44,418.71h1.2v1.2h-1.2zM480.31,418.71h1.2v1.2h-1.2zM522.88,418.71h1.2v1.2h-1.2zM526.75,418.71h1.2v1.2h-1.2zM530.62,418.71h1.2v1.2h-1.2zM534.49,418.71h1.2v1.2h-1.2zM538.36,418.71h1.2v1.2h-1.2zM542.23,418.71h1.2v1.2h-1.2zM546.10,418.71h1.2v1.2h-1.2zM549.97,418.71h1.2v1.2h-1.2zM294.55,422.58h1.2v1.2h-1.2zM298.42,422.58h1.2v1.2h-1.2zM302.29,422.58h1.2v1.2h-1.2zM306.16,422.58h1.2v1.2h-1.2zM310.03,422.58h1.2v1.2h-1.2zM313.90,422.58h1.2v1.2h-1.2zM317.77,422.58h1.2v1.2h-1.2zM325.51,422.58h1.2v1.2h-1.2zM329.38,422.58h1.2v1.2h-1.2zM333.25,422.58h1.2v1.2h-1.2zM337.12,422.58h1.2v1.2h-1.2zM340.99,422.58h1.2v1.2h-1.2zM352.60,422.58h1.2v1.2h-1.2zM356.47,422.58h1.2v1.2h-1.2zM360.34,422.58h1.2v1.2h-1.2zM364.21,422.58h1.2v1.2h-1.2zM368.08,422.58h1.2v1.2h-1.2zM371.95,422.58h1.2v1.2h-1.2zM379.69,422.58h1.2v1.2h-1.2zM383.56,422.58h1.2v1.2h-1.2zM387.43,422.58h1.2v1.2h-1.2zM391.30,422.58h1.2v1.2h-1.2zM395.17,422.58h1.2v1.2h-1.2zM399.04,422.58h1.2v1.2h-1.2zM422.26,422.58h1.2v1.2h-1.2zM426.13,422.58h1.2v1.2h-1.2zM430.00,422.58h1.2v1.2h-1.2zM433.87,422.58h1.2v1.2h-1.2zM437.74,422.58h1.2v1.2h-1.2zM441.61,422.58h1.2v1.2h-1.2zM445.48,422.58h1.2v1.2h-1.2zM457.09,422.58h1.2v1.2h-1.2zM460.96,422.58h1.2v1.2h-1.2zM464.83,422.58h1.2v1.2h-1.2zM468.70,422.58h1.2v1.2h-1.2zM472.57,422.58h1.2v1.2h-1.2zM476.44,422.58h1.2v1.2h-1.2zM480.31,422.58h1.2v1.2h-1.2zM522.88,422.58h1.2v1.2h-1.2zM526.75,422.58h1.2v1.2h-1.2zM530.62,422.58h1.2v1.2h-1.2zM534.49,422.58h1.2v1.2h-1.2zM538.36,422.58h1.2v1.2h-1.2zM542.23,422.58h1.2v1.2h-1.2zM546.10,422.58h1.2v1.2h-1.2zM549.97,422.58h1.2v1.2h-1.2zM294.55,426.45h1.2v1.2h-1.2zM298.42,426.45h1.2v1.2h-1.2zM302.29,426.45h1.2v1.2h-1.2zM306.16,426.45h1.2v1.2h-1.2zM310.03,426.45h1.2v1.2h-1.2zM313.90,426.45h1.2v1.2h-1.2zM317.77,426.45h1.2v1.2h-1.2zM325.51,426.45h1.2v1.2h-1.2zM329.38,426.45h1.2v1.2h-1.2zM333.25,426.45h1.2v1.2h-1.2zM337.12,426.45h1.2v1.2h-1.2zM340.99,426.45h1.2v1.2h-1.2zM352.60,426.45h1.2v1.2h-1.2zM356.47,426.45h1.2v1.2h-1.2zM360.34,426.45h1.2v1.2h-1.2zM364.21,426.45h1.2v1.2h-1.2zM368.08,426.45h1.2v1.2h-1.2zM371.95,426.45h1.2v1.2h-1.2zM379.69,426.45h1.2v1.2h-1.2zM383.56,426.45h1.2v1.2h-1.2zM387.43,426.45h1.2v1.2h-1.2zM391.30,426.45h1.2v1.2h-1.2zM395.17,426.45h1.2v1.2h-1.2zM399.04,426.45h1.2v1.2h-1.2zM418.39,426.45h1.2v1.2h-1.2zM422.26,426.45h1.2v1.2h-1.2zM426.13,426.45h1.2v1.2h-1.2zM430.00,426.45h1.2v1.2h-1.2zM433.87,426.45h1.2v1.2h-1.2zM437.74,426.45h1.2v1.2h-1.2zM441.61,426.45h1.2v1.2h-1.2zM445.48,426.45h1.2v1.2h-1.2zM457.09,426.45h1.2v1.2h-1.2zM460.96,426.45h1.2v1.2h-1.2zM464.83,426.45h1.2v1.2h-1.2zM468.70,426.45h1.2v1.2h-1.2zM472.57,426.45h1.2v1.2h-1.2zM476.44,426.45h1.2v1.2h-1.2zM480.31,426.45h1.2v1.2h-1.2zM522.88,426.45h1.2v1.2h-1.2zM526.75,426.45h1.2v1.2h-1.2zM530.62,426.45h1.2v1.2h-1.2zM534.49,426.45h1.2v1.2h-1.2zM538.36,426.45h1.2v1.2h-1.2zM542.23,426.45h1.2v1.2h-1.2zM546.10,426.45h1.2v1.2h-1.2zM549.97,426.45h1.2v1.2h-1.2zM298.42,430.32h1.2v1.2h-1.2zM302.29,430.32h1.2v1.2h-1.2zM306.16,430.32h1.2v1.2h-1.2zM310.03,430.32h1.2v1.2h-1.2zM313.90,430.32h1.2v1.2h-1.2zM317.77,430.32h1.2v1.2h-1.2zM321.64,430.32h1.2v1.2h-1.2zM325.51,430.32h1.2v1.2h-1.2zM329.38,430.32h1.2v1.2h-1.2zM333.25,430.32h1.2v1.2h-1.2zM337.12,430.32h1.2v1.2h-1.2zM340.99,430.32h1.2v1.2h-1.2zM352.60,430.32h1.2v1.2h-1.2zM356.47,430.32h1.2v1.2h-1.2zM360.34,430.32h1.2v1.2h-1.2zM364.21,430.32h1.2v1.2h-1.2zM368.08,430.32h1.2v1.2h-1.2zM371.95,430.32h1.2v1.2h-1.2zM375.82,430.32h1.2v1.2h-1.2zM379.69,430.32h1.2v1.2h-1.2zM383.56,430.32h1.2v1.2h-1.2zM387.43,430.32h1.2v1.2h-1.2zM391.30,430.32h1.2v1.2h-1.2zM395.17,430.32h1.2v1.2h-1.2zM399.04,430.32h1.2v1.2h-1.2zM418.39,430.32h1.2v1.2h-1.2zM422.26,430.32h1.2v1.2h-1.2zM426.13,430.32h1.2v1.2h-1.2zM430.00,430.32h1.2v1.2h-1.2zM433.87,430.32h1.2v1.2h-1.2zM437.74,430.32h1.2v1.2h-1.2zM441.61,430.32h1.2v1.2h-1.2zM445.48,430.32h1.2v1.2h-1.2zM449.35,430.32h1.2v1.2h-1.2zM453.22,430.32h1.2v1.2h-1.2zM457.09,430.32h1.2v1.2h-1.2zM460.96,430.32h1.2v1.2h-1.2zM464.83,430.32h1.2v1.2h-1.2zM468.70,430.32h1.2v1.2h-1.2zM472.57,430.32h1.2v1.2h-1.2zM476.44,430.32h1.2v1.2h-1.2zM480.31,430.32h1.2v1.2h-1.2zM484.18,430.32h1.2v1.2h-1.2zM522.88,430.32h1.2v1.2h-1.2zM526.75,430.32h1.2v1.2h-1.2zM530.62,430.32h1.2v1.2h-1.2zM534.49,430.32h1.2v1.2h-1.2zM538.36,430.32h1.2v1.2h-1.2zM542.23,430.32h1.2v1.2h-1.2zM546.10,430.32h1.2v1.2h-1.2zM549.97,430.32h1.2v1.2h-1.2zM298.42,434.19h1.2v1.2h-1.2zM302.29,434.19h1.2v1.2h-1.2zM306.16,434.19h1.2v1.2h-1.2zM310.03,434.19h1.2v1.2h-1.2zM313.90,434.19h1.2v1.2h-1.2zM317.77,434.19h1.2v1.2h-1.2zM321.64,434.19h1.2v1.2h-1.2zM325.51,434.19h1.2v1.2h-1.2zM329.38,434.19h1.2v1.2h-1.2zM333.25,434.19h1.2v1.2h-1.2zM337.12,434.19h1.2v1.2h-1.2zM340.99,434.19h1.2v1.2h-1.2zM356.47,434.19h1.2v1.2h-1.2zM360.34,434.19h1.2v1.2h-1.2zM364.21,434.19h1.2v1.2h-1.2zM368.08,434.19h1.2v1.2h-1.2zM371.95,434.19h1.2v1.2h-1.2zM375.82,434.19h1.2v1.2h-1.2zM379.69,434.19h1.2v1.2h-1.2zM383.56,434.19h1.2v1.2h-1.2zM387.43,434.19h1.2v1.2h-1.2zM391.30,434.19h1.2v1.2h-1.2zM395.17,434.19h1.2v1.2h-1.2zM399.04,434.19h1.2v1.2h-1.2zM418.39,434.19h1.2v1.2h-1.2zM422.26,434.19h1.2v1.2h-1.2zM426.13,434.19h1.2v1.2h-1.2zM430.00,434.19h1.2v1.2h-1.2zM433.87,434.19h1.2v1.2h-1.2zM437.74,434.19h1.2v1.2h-1.2zM441.61,434.19h1.2v1.2h-1.2zM445.48,434.19h1.2v1.2h-1.2zM449.35,434.19h1.2v1.2h-1.2zM453.22,434.19h1.2v1.2h-1.2zM457.09,434.19h1.2v1.2h-1.2zM460.96,434.19h1.2v1.2h-1.2zM464.83,434.19h1.2v1.2h-1.2zM468.70,434.19h1.2v1.2h-1.2zM472.57,434.19h1.2v1.2h-1.2zM476.44,434.19h1.2v1.2h-1.2zM480.31,434.19h1.2v1.2h-1.2zM484.18,434.19h1.2v1.2h-1.2zM522.88,434.19h1.2v1.2h-1.2zM526.75,434.19h1.2v1.2h-1.2zM530.62,434.19h1.2v1.2h-1.2zM534.49,434.19h1.2v1.2h-1.2zM538.36,434.19h1.2v1.2h-1.2zM542.23,434.19h1.2v1.2h-1.2zM546.10,434.19h1.2v1.2h-1.2zM298.42,438.06h1.2v1.2h-1.2zM302.29,438.06h1.2v1.2h-1.2zM306.16,438.06h1.2v1.2h-1.2zM310.03,438.06h1.2v1.2h-1.2zM313.90,438.06h1.2v1.2h-1.2zM317.77,438.06h1.2v1.2h-1.2zM321.64,438.06h1.2v1.2h-1.2zM325.51,438.06h1.2v1.2h-1.2zM329.38,438.06h1.2v1.2h-1.2zM333.25,438.06h1.2v1.2h-1.2zM337.12,438.06h1.2v1.2h-1.2zM356.47,438.06h1.2v1.2h-1.2zM360.34,438.06h1.2v1.2h-1.2zM364.21,438.06h1.2v1.2h-1.2zM368.08,438.06h1.2v1.2h-1.2zM371.95,438.06h1.2v1.2h-1.2zM375.82,438.06h1.2v1.2h-1.2zM379.69,438.06h1.2v1.2h-1.2zM383.56,438.06h1.2v1.2h-1.2zM387.43,438.06h1.2v1.2h-1.2zM391.30,438.06h1.2v1.2h-1.2zM395.17,438.06h1.2v1.2h-1.2zM399.04,438.06h1.2v1.2h-1.2zM418.39,438.06h1.2v1.2h-1.2zM422.26,438.06h1.2v1.2h-1.2zM426.13,438.06h1.2v1.2h-1.2zM430.00,438.06h1.2v1.2h-1.2zM433.87,438.06h1.2v1.2h-1.2zM437.74,438.06h1.2v1.2h-1.2zM441.61,438.06h1.2v1.2h-1.2zM445.48,438.06h1.2v1.2h-1.2zM449.35,438.06h1.2v1.2h-1.2zM453.22,438.06h1.2v1.2h-1.2zM457.09,438.06h1.2v1.2h-1.2zM460.96,438.06h1.2v1.2h-1.2zM464.83,438.06h1.2v1.2h-1.2zM468.70,438.06h1.2v1.2h-1.2zM472.57,438.06h1.2v1.2h-1.2zM476.44,438.06h1.2v1.2h-1.2zM480.31,438.06h1.2v1.2h-1.2zM484.18,438.06h1.2v1.2h-1.2zM522.88,438.06h1.2v1.2h-1.2zM526.75,438.06h1.2v1.2h-1.2zM530.62,438.06h1.2v1.2h-1.2zM534.49,438.06h1.2v1.2h-1.2zM538.36,438.06h1.2v1.2h-1.2zM542.23,438.06h1.2v1.2h-1.2zM546.10,438.06h1.2v1.2h-1.2zM298.42,441.93h1.2v1.2h-1.2zM302.29,441.93h1.2v1.2h-1.2zM306.16,441.93h1.2v1.2h-1.2zM310.03,441.93h1.2v1.2h-1.2zM313.90,441.93h1.2v1.2h-1.2zM317.77,441.93h1.2v1.2h-1.2zM321.64,441.93h1.2v1.2h-1.2zM325.51,441.93h1.2v1.2h-1.2zM329.38,441.93h1.2v1.2h-1.2zM333.25,441.93h1.2v1.2h-1.2zM337.12,441.93h1.2v1.2h-1.2zM356.47,441.93h1.2v1.2h-1.2zM360.34,441.93h1.2v1.2h-1.2zM364.21,441.93h1.2v1.2h-1.2zM368.08,441.93h1.2v1.2h-1.2zM371.95,441.93h1.2v1.2h-1.2zM375.82,441.93h1.2v1.2h-1.2zM379.69,441.93h1.2v1.2h-1.2zM383.56,441.93h1.2v1.2h-1.2zM387.43,441.93h1.2v1.2h-1.2zM391.30,441.93h1.2v1.2h-1.2zM395.17,441.93h1.2v1.2h-1.2zM414.52,441.93h1.2v1.2h-1.2zM418.39,441.93h1.2v1.2h-1.2zM422.26,441.93h1.2v1.2h-1.2zM426.13,441.93h1.2v1.2h-1.2zM430.00,441.93h1.2v1.2h-1.2zM433.87,441.93h1.2v1.2h-1.2zM437.74,441.93h1.2v1.2h-1.2zM441.61,441.93h1.2v1.2h-1.2zM445.48,441.93h1.2v1.2h-1.2zM449.35,441.93h1.2v1.2h-1.2zM453.22,441.93h1.2v1.2h-1.2zM457.09,441.93h1.2v1.2h-1.2zM460.96,441.93h1.2v1.2h-1.2zM464.83,441.93h1.2v1.2h-1.2zM468.70,441.93h1.2v1.2h-1.2zM472.57,441.93h1.2v1.2h-1.2zM476.44,441.93h1.2v1.2h-1.2zM480.31,441.93h1.2v1.2h-1.2zM484.18,441.93h1.2v1.2h-1.2zM522.88,441.93h1.2v1.2h-1.2zM526.75,441.93h1.2v1.2h-1.2zM530.62,441.93h1.2v1.2h-1.2zM534.49,441.93h1.2v1.2h-1.2zM538.36,441.93h1.2v1.2h-1.2zM542.23,441.93h1.2v1.2h-1.2zM546.10,441.93h1.2v1.2h-1.2zM298.42,445.80h1.2v1.2h-1.2zM302.29,445.80h1.2v1.2h-1.2zM306.16,445.80h1.2v1.2h-1.2zM310.03,445.80h1.2v1.2h-1.2zM313.90,445.80h1.2v1.2h-1.2zM317.77,445.80h1.2v1.2h-1.2zM321.64,445.80h1.2v1.2h-1.2zM325.51,445.80h1.2v1.2h-1.2zM329.38,445.80h1.2v1.2h-1.2zM333.25,445.80h1.2v1.2h-1.2zM337.12,445.80h1.2v1.2h-1.2zM356.47,445.80h1.2v1.2h-1.2zM360.34,445.80h1.2v1.2h-1.2zM364.21,445.80h1.2v1.2h-1.2zM368.08,445.80h1.2v1.2h-1.2zM371.95,445.80h1.2v1.2h-1.2zM375.82,445.80h1.2v1.2h-1.2zM379.69,445.80h1.2v1.2h-1.2zM383.56,445.80h1.2v1.2h-1.2zM387.43,445.80h1.2v1.2h-1.2zM391.30,445.80h1.2v1.2h-1.2zM395.17,445.80h1.2v1.2h-1.2zM414.52,445.80h1.2v1.2h-1.2zM418.39,445.80h1.2v1.2h-1.2zM422.26,445.80h1.2v1.2h-1.2zM426.13,445.80h1.2v1.2h-1.2zM430.00,445.80h1.2v1.2h-1.2zM433.87,445.80h1.2v1.2h-1.2zM437.74,445.80h1.2v1.2h-1.2zM441.61,445.80h1.2v1.2h-1.2zM445.48,445.80h1.2v1.2h-1.2zM449.35,445.80h1.2v1.2h-1.2zM453.22,445.80h1.2v1.2h-1.2zM457.09,445.80h1.2v1.2h-1.2zM460.96,445.80h1.2v1.2h-1.2zM464.83,445.80h1.2v1.2h-1.2zM468.70,445.80h1.2v1.2h-1.2zM472.57,445.80h1.2v1.2h-1.2zM476.44,445.80h1.2v1.2h-1.2zM480.31,445.80h1.2v1.2h-1.2zM484.18,445.80h1.2v1.2h-1.2zM488.05,445.80h1.2v1.2h-1.2zM522.88,445.80h1.2v1.2h-1.2zM526.75,445.80h1.2v1.2h-1.2zM530.62,445.80h1.2v1.2h-1.2zM534.49,445.80h1.2v1.2h-1.2zM538.36,445.80h1.2v1.2h-1.2zM542.23,445.80h1.2v1.2h-1.2zM546.10,445.80h1.2v1.2h-1.2zM298.42,449.67h1.2v1.2h-1.2zM302.29,449.67h1.2v1.2h-1.2zM306.16,449.67h1.2v1.2h-1.2zM310.03,449.67h1.2v1.2h-1.2zM313.90,449.67h1.2v1.2h-1.2zM317.77,449.67h1.2v1.2h-1.2zM321.64,449.67h1.2v1.2h-1.2zM325.51,449.67h1.2v1.2h-1.2zM329.38,449.67h1.2v1.2h-1.2zM333.25,449.67h1.2v1.2h-1.2zM337.12,449.67h1.2v1.2h-1.2zM360.34,449.67h1.2v1.2h-1.2zM364.21,449.67h1.2v1.2h-1.2zM368.08,449.67h1.2v1.2h-1.2zM371.95,449.67h1.2v1.2h-1.2zM375.82,449.67h1.2v1.2h-1.2zM379.69,449.67h1.2v1.2h-1.2zM383.56,449.67h1.2v1.2h-1.2zM387.43,449.67h1.2v1.2h-1.2zM391.30,449.67h1.2v1.2h-1.2zM395.17,449.67h1.2v1.2h-1.2zM414.52,449.67h1.2v1.2h-1.2zM418.39,449.67h1.2v1.2h-1.2zM422.26,449.67h1.2v1.2h-1.2zM426.13,449.67h1.2v1.2h-1.2zM430.00,449.67h1.2v1.2h-1.2zM433.87,449.67h1.2v1.2h-1.2zM437.74,449.67h1.2v1.2h-1.2zM441.61,449.67h1.2v1.2h-1.2zM445.48,449.67h1.2v1.2h-1.2zM449.35,449.67h1.2v1.2h-1.2zM453.22,449.67h1.2v1.2h-1.2zM457.09,449.67h1.2v1.2h-1.2zM460.96,449.67h1.2v1.2h-1.2zM464.83,449.67h1.2v1.2h-1.2zM468.70,449.67h1.2v1.2h-1.2zM472.57,449.67h1.2v1.2h-1.2zM476.44,449.67h1.2v1.2h-1.2zM480.31,449.67h1.2v1.2h-1.2zM484.18,449.67h1.2v1.2h-1.2zM488.05,449.67h1.2v1.2h-1.2zM522.88,449.67h1.2v1.2h-1.2zM526.75,449.67h1.2v1.2h-1.2zM530.62,449.67h1.2v1.2h-1.2zM534.49,449.67h1.2v1.2h-1.2zM538.36,449.67h1.2v1.2h-1.2zM542.23,449.67h1.2v1.2h-1.2zM546.10,449.67h1.2v1.2h-1.2zM302.29,453.54h1.2v1.2h-1.2zM306.16,453.54h1.2v1.2h-1.2zM310.03,453.54h1.2v1.2h-1.2zM313.90,453.54h1.2v1.2h-1.2zM317.77,453.54h1.2v1.2h-1.2zM321.64,453.54h1.2v1.2h-1.2zM325.51,453.54h1.2v1.2h-1.2zM329.38,453.54h1.2v1.2h-1.2zM333.25,453.54h1.2v1.2h-1.2zM337.12,453.54h1.2v1.2h-1.2zM360.34,453.54h1.2v1.2h-1.2zM364.21,453.54h1.2v1.2h-1.2zM368.08,453.54h1.2v1.2h-1.2zM371.95,453.54h1.2v1.2h-1.2zM375.82,453.54h1.2v1.2h-1.2zM379.69,453.54h1.2v1.2h-1.2zM383.56,453.54h1.2v1.2h-1.2zM387.43,453.54h1.2v1.2h-1.2zM391.30,453.54h1.2v1.2h-1.2zM395.17,453.54h1.2v1.2h-1.2zM414.52,453.54h1.2v1.2h-1.2zM418.39,453.54h1.2v1.2h-1.2zM422.26,453.54h1.2v1.2h-1.2zM426.13,453.54h1.2v1.2h-1.2zM430.00,453.54h1.2v1.2h-1.2zM433.87,453.54h1.2v1.2h-1.2zM437.74,453.54h1.2v1.2h-1.2zM441.61,453.54h1.2v1.2h-1.2zM445.48,453.54h1.2v1.2h-1.2zM449.35,453.54h1.2v1.2h-1.2zM453.22,453.54h1.2v1.2h-1.2zM457.09,453.54h1.2v1.2h-1.2zM460.96,453.54h1.2v1.2h-1.2zM464.83,453.54h1.2v1.2h-1.2zM468.70,453.54h1.2v1.2h-1.2zM472.57,453.54h1.2v1.2h-1.2zM476.44,453.54h1.2v1.2h-1.2zM480.31,453.54h1.2v1.2h-1.2zM484.18,453.54h1.2v1.2h-1.2zM488.05,453.54h1.2v1.2h-1.2zM522.88,453.54h1.2v1.2h-1.2zM526.75,453.54h1.2v1.2h-1.2zM530.62,453.54h1.2v1.2h-1.2zM534.49,453.54h1.2v1.2h-1.2zM538.36,453.54h1.2v1.2h-1.2zM542.23,453.54h1.2v1.2h-1.2zM302.29,457.41h1.2v1.2h-1.2zM306.16,457.41h1.2v1.2h-1.2zM310.03,457.41h1.2v1.2h-1.2zM313.90,457.41h1.2v1.2h-1.2zM317.77,457.41h1.2v1.2h-1.2zM321.64,457.41h1.2v1.2h-1.2zM325.51,457.41h1.2v1.2h-1.2zM329.38,457.41h1.2v1.2h-1.2zM333.25,457.41h1.2v1.2h-1.2zM360.34,457.41h1.2v1.2h-1.2zM364.21,457.41h1.2v1.2h-1.2zM368.08,457.41h1.2v1.2h-1.2zM371.95,457.41h1.2v1.2h-1.2zM375.82,457.41h1.2v1.2h-1.2zM379.69,457.41h1.2v1.2h-1.2zM383.56,457.41h1.2v1.2h-1.2zM387.43,457.41h1.2v1.2h-1.2zM391.30,457.41h1.2v1.2h-1.2zM395.17,457.41h1.2v1.2h-1.2zM410.65,457.41h1.2v1.2h-1.2zM414.52,457.41h1.2v1.2h-1.2zM418.39,457.41h1.2v1.2h-1.2zM422.26,457.41h1.2v1.2h-1.2zM426.13,457.41h1.2v1.2h-1.2zM430.00,457.41h1.2v1.2h-1.2zM433.87,457.41h1.2v1.2h-1.2zM437.74,457.41h1.2v1.2h-1.2zM441.61,457.41h1.2v1.2h-1.2zM445.48,457.41h1.2v1.2h-1.2zM449.35,457.41h1.2v1.2h-1.2zM453.22,457.41h1.2v1.2h-1.2zM457.09,457.41h1.2v1.2h-1.2zM460.96,457.41h1.2v1.2h-1.2zM464.83,457.41h1.2v1.2h-1.2zM468.70,457.41h1.2v1.2h-1.2zM472.57,457.41h1.2v1.2h-1.2zM476.44,457.41h1.2v1.2h-1.2zM480.31,457.41h1.2v1.2h-1.2zM484.18,457.41h1.2v1.2h-1.2zM488.05,457.41h1.2v1.2h-1.2zM522.88,457.41h1.2v1.2h-1.2zM526.75,457.41h1.2v1.2h-1.2zM530.62,457.41h1.2v1.2h-1.2zM534.49,457.41h1.2v1.2h-1.2zM538.36,457.41h1.2v1.2h-1.2zM542.23,457.41h1.2v1.2h-1.2zM302.29,461.28h1.2v1.2h-1.2zM306.16,461.28h1.2v1.2h-1.2zM310.03,461.28h1.2v1.2h-1.2zM313.90,461.28h1.2v1.2h-1.2zM317.77,461.28h1.2v1.2h-1.2zM321.64,461.28h1.2v1.2h-1.2zM325.51,461.28h1.2v1.2h-1.2zM329.38,461.28h1.2v1.2h-1.2zM333.25,461.28h1.2v1.2h-1.2zM360.34,461.28h1.2v1.2h-1.2zM364.21,461.28h1.2v1.2h-1.2zM368.08,461.28h1.2v1.2h-1.2zM371.95,461.28h1.2v1.2h-1.2zM375.82,461.28h1.2v1.2h-1.2zM379.69,461.28h1.2v1.2h-1.2zM383.56,461.28h1.2v1.2h-1.2zM387.43,461.28h1.2v1.2h-1.2zM391.30,461.28h1.2v1.2h-1.2zM410.65,461.28h1.2v1.2h-1.2zM414.52,461.28h1.2v1.2h-1.2zM418.39,461.28h1.2v1.2h-1.2zM422.26,461.28h1.2v1.2h-1.2zM426.13,461.28h1.2v1.2h-1.2zM430.00,461.28h1.2v1.2h-1.2zM433.87,461.28h1.2v1.2h-1.2zM437.74,461.28h1.2v1.2h-1.2zM441.61,461.28h1.2v1.2h-1.2zM445.48,461.28h1.2v1.2h-1.2zM449.35,461.28h1.2v1.2h-1.2zM453.22,461.28h1.2v1.2h-1.2zM457.09,461.28h1.2v1.2h-1.2zM460.96,461.28h1.2v1.2h-1.2zM464.83,461.28h1.2v1.2h-1.2zM468.70,461.28h1.2v1.2h-1.2zM472.57,461.28h1.2v1.2h-1.2zM476.44,461.28h1.2v1.2h-1.2zM480.31,461.28h1.2v1.2h-1.2zM484.18,461.28h1.2v1.2h-1.2zM488.05,461.28h1.2v1.2h-1.2zM526.75,461.28h1.2v1.2h-1.2zM530.62,461.28h1.2v1.2h-1.2zM534.49,461.28h1.2v1.2h-1.2zM538.36,461.28h1.2v1.2h-1.2zM542.23,461.28h1.2v1.2h-1.2z" fill="#686868"/>
<text x="365.2" y="655.8" font-size="12.6" letter-spacing="-0.22" text-anchor="middle" fill="#000" stroke="#000" stroke-width="0.12">© Copyright 2025 Betamotor S.p.A.</text>
<rect x="608.5" y="591.5" width="140" height="49.7" fill="none" stroke="#666" stroke-width="1"/>
<text x="672.4" y="604.1" font-size="11.4" letter-spacing="0.25" text-anchor="middle" fill="#000" stroke="#000" stroke-width="0.3">Particolari non figuranti</text>
<text x="671.9" y="618.1" font-size="11.4" letter-spacing="0.25" text-anchor="middle" fill="#000" stroke="#000" stroke-width="0.3">Not shown parts</text>
<circle cx="102.7" cy="154.2" r="7.25" class="c"/><text x="102.7" y="157.6" class="n">13</text><circle cx="111.1" cy="167.1" r="7.25" class="c"/><text x="111.1" y="170.5" class="n">12</text><circle cx="119.5" cy="179" r="7.25" class="c"/><text x="119.5" y="182.4" class="n">11</text><circle cx="7" cy="282" r="7.25" class="c"/><text x="7" y="285.4" class="n">13</text><circle cx="19.5" cy="289.5" r="7.25" class="c"/><text x="19.5" y="292.9" class="n">12</text><circle cx="32.5" cy="297" r="7.25" class="c"/><text x="32.5" y="300.4" class="n">11</text><circle cx="171.25" cy="211.25" r="7.25" class="c"/><text x="171.25" y="214.65" class="n">9</text><circle cx="190.5" cy="261.75" r="7.25" class="c"/><text x="190.5" y="265.15" class="n">8</text><circle cx="315.1" cy="303" r="7.25" class="c"/><text x="315.1" y="306.4" class="n">17</text><circle cx="338.7" cy="314.4" r="7.25" class="c"/><text x="338.7" y="317.79999999999995" class="n">14</text><circle cx="235.4" cy="336.1" r="7.25" class="c"/><text x="235.4" y="339.5" class="n">17</text><circle cx="248.7" cy="342.5" r="7.25" class="c"/><text x="248.7" y="345.9" class="n">16</text><circle cx="262.4" cy="348.5" r="7.25" class="c"/><text x="262.4" y="351.9" class="n">24</text><circle cx="388.2" cy="282.7" r="7.25" class="c"/><text x="388.2" y="286.09999999999997" class="n">6</text><circle cx="386.9" cy="394" r="7.25" class="c"/><text x="386.9" y="397.4" class="n">10</text><circle cx="526.6" cy="347.5" r="7.25" class="c"/><text x="526.6" y="350.9" class="n">15</text><circle cx="506.2" cy="362.2" r="7.25" class="c"/><text x="506.2" y="365.59999999999997" class="n">15</text><circle cx="576.1" cy="430.4" r="7.25" class="c"/><text x="576.1" y="433.79999999999995" class="n">2</text><circle cx="644" cy="404.6" r="7.25" class="c"/><text x="644" y="408.0" class="n">3</text><circle cx="521.2" cy="472.4" r="7.25" class="c"/><text x="521.2" y="475.79999999999995" class="n">4</text><circle cx="385.3" cy="494.3" r="7.25" class="c"/><text x="385.3" y="497.7" class="n">1</text><circle cx="307.1" cy="440.2" r="7.25" class="c"/><text x="307.1" y="443.59999999999997" class="n">5</text><circle cx="162.2" cy="453.1" r="7.25" class="c"/><text x="162.2" y="456.5" class="n">19</text><circle cx="162.2" cy="478.6" r="7.25" class="c"/><text x="162.2" y="482.0" class="n">19</text><circle cx="123.6" cy="457.8" r="7.25" class="c"/><text x="123.6" y="461.2" class="n">17</text><circle cx="58.2" cy="492.6" r="7.25" class="c"/><text x="58.2" y="496.0" class="n">17</text><circle cx="74.5" cy="500.4" r="7.25" class="c"/><text x="74.5" y="503.79999999999995" class="n">16</text><circle cx="89.6" cy="508.1" r="7.25" class="c"/><text x="89.6" y="511.5" class="n">24</text><circle cx="109.3" cy="517.3" r="7.25" class="c"/><text x="109.3" y="520.6999999999999" class="n">14</text><circle cx="306.2" cy="598.2" r="7.25" class="c"/><text x="306.2" y="601.6" class="n">10</text><circle cx="480.2" cy="98.1" r="7.25" class="c"/><text x="480.2" y="101.5" class="n">23</text><circle cx="499.5" cy="107.4" r="7.25" class="c"/><text x="499.5" y="110.80000000000001" class="n">22</text><circle cx="513.5" cy="113.3" r="7.25" class="c"/><text x="513.5" y="116.7" class="n">21</text><circle cx="528.4" cy="120" r="7.25" class="c"/><text x="528.4" y="123.4" class="n">20</text><circle cx="416.4" cy="176" r="7.25" class="c"/><text x="416.4" y="179.4" class="n">23</text><circle cx="437.4" cy="185.6" r="7.25" class="c"/><text x="437.4" y="189.0" class="n">22</text><circle cx="451.4" cy="191.7" r="7.25" class="c"/><text x="451.4" y="195.1" class="n">21</text><circle cx="465.4" cy="197.9" r="7.25" class="c"/><text x="465.4" y="201.3" class="n">20</text><circle cx="641.25" cy="102.5" r="7.25" class="c"/><text x="641.25" y="105.9" class="n">7</text><circle cx="603.6" cy="157.3" r="7.25" class="c"/><text x="603.6" y="160.70000000000002" class="n">10</text><circle cx="560" cy="237" r="7.25" class="c"/><text x="560" y="240.4" class="n">10</text><circle cx="718.2" cy="204.5" r="7.25" class="c"/><text x="718.2" y="207.9" class="n">18</text><circle cx="660.6" cy="630" r="7.2" class="c"/><text x="660.6" y="632.5" class="s">111</text><circle cx="675.5" cy="630" r="7.2" class="c"/><text x="675.5" y="632.5" class="s">171</text><circle cx="690.5" cy="630" r="7.2" class="c"/><text x="690.5" y="632.5" class="s">172</text>
</svg></body></html>
